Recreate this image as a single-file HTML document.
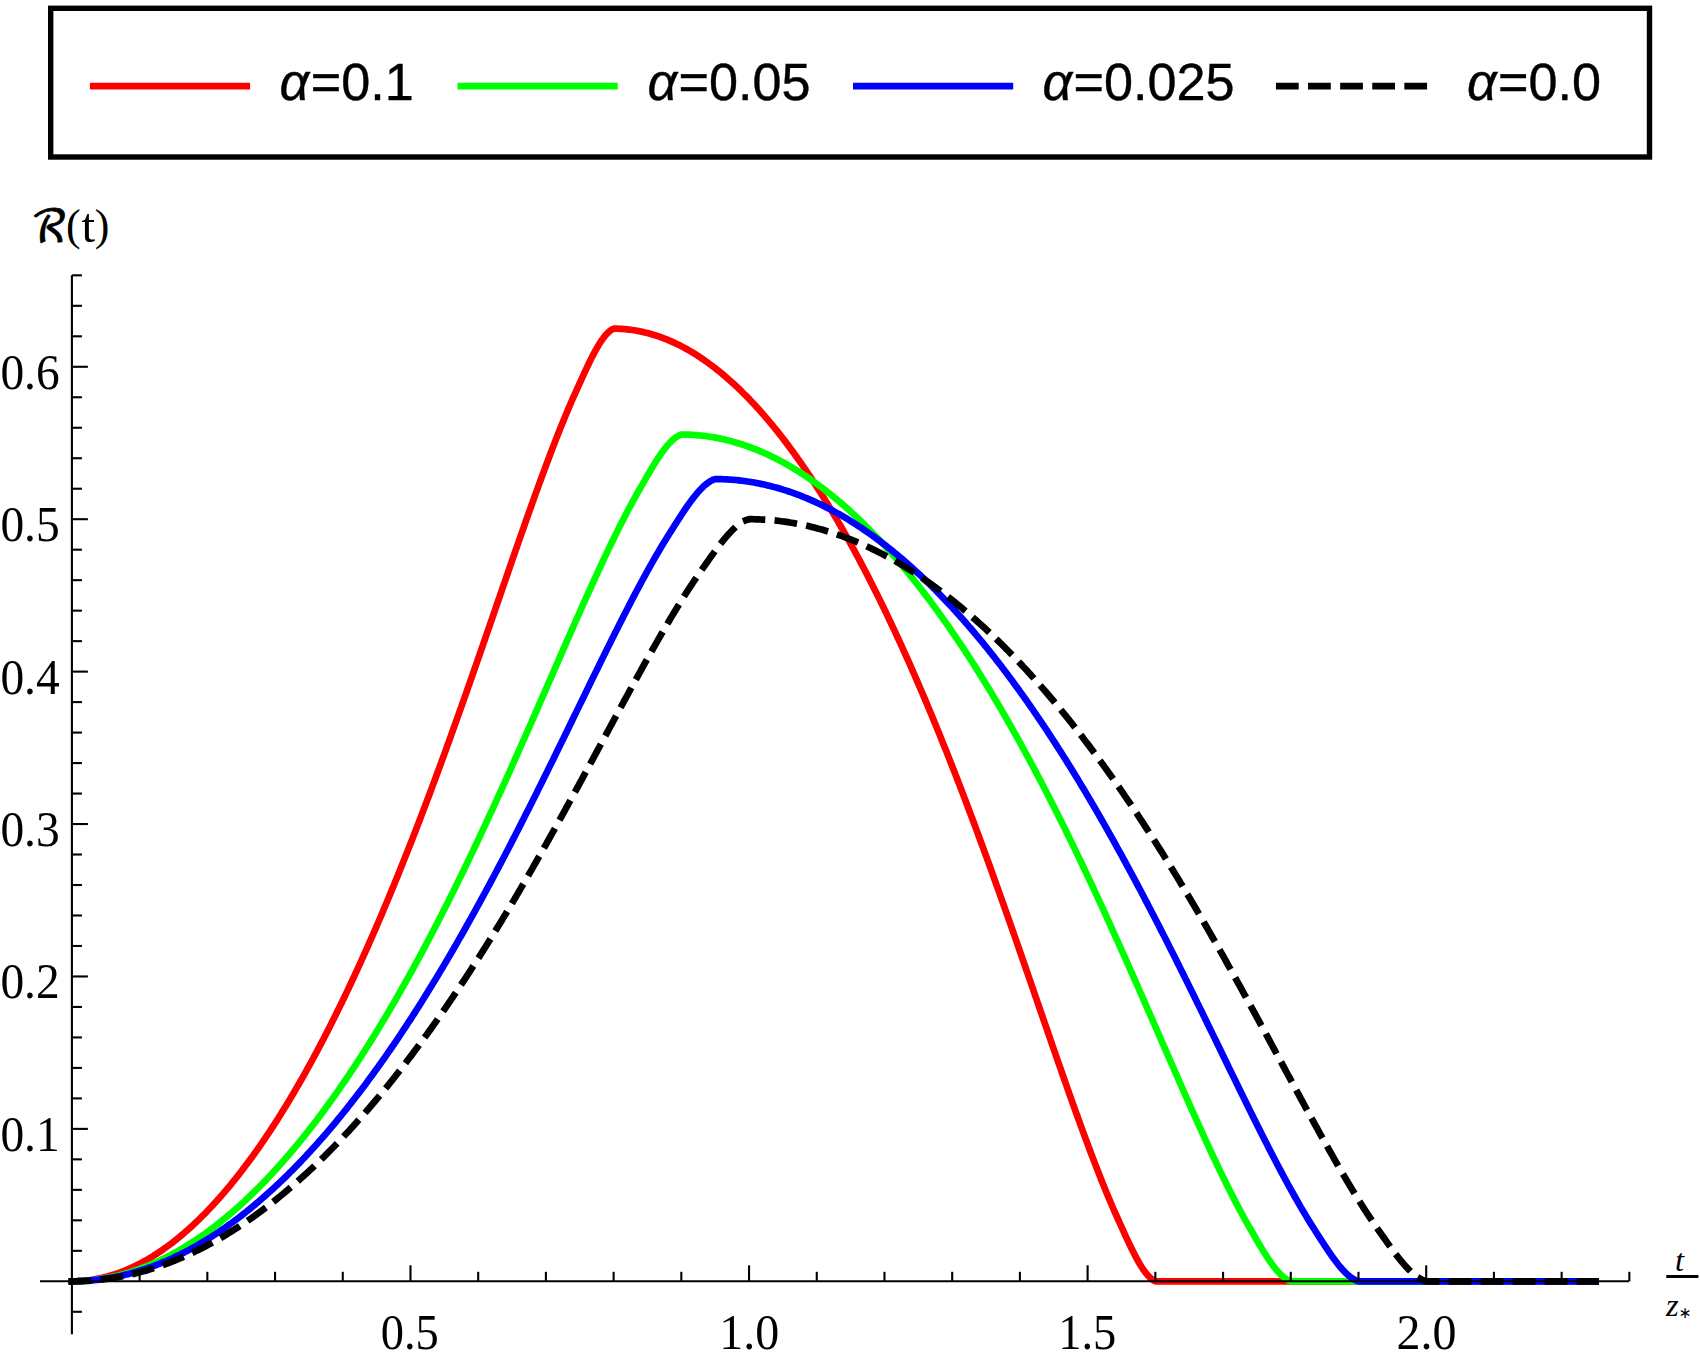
<!DOCTYPE html>
<html><head><meta charset="utf-8"><title>R(t) plot</title>
<style>
html,body{margin:0;padding:0;background:#fff;}
body{width:1700px;height:1367px;overflow:hidden;}
svg{display:block;}
.tk{font-family:"Liberation Serif",serif;font-size:50.5px;fill:#000;}
.lg{font-family:"Liberation Sans",sans-serif;font-size:52.2px;fill:#000;stroke:#000;stroke-width:0.4px;}
.it{font-style:italic;}
</style></head><body>
<svg width="1700" height="1367" viewBox="0 0 1700 1367">
<rect x="0" y="0" width="1700" height="1367" fill="#fff"/>
<rect x="50.7" y="8.3" width="1598.8" height="148.7" fill="none" stroke="#000" stroke-width="5.4"/>
<line x1="89.9" y1="86.2" x2="250.1" y2="86.2" stroke="#ff0000" stroke-width="6.7"/>
<line x1="457.5" y1="86.2" x2="617.7" y2="86.2" stroke="#00ff00" stroke-width="6.7"/>
<line x1="853.0" y1="86.2" x2="1013.2" y2="86.2" stroke="#0000ff" stroke-width="6.7"/>
<line x1="1279.3" y1="86.2" x2="1436" y2="86.2" stroke="#000" stroke-width="6.7" stroke-dasharray="16.05 16.05" stroke-linecap="square"/>
<text class="lg" x="279.6" y="99.8"><tspan class="it">α</tspan><tspan dx="1.4">=0.1</tspan></text>
<text class="lg" x="647.4" y="99.8"><tspan class="it">α</tspan><tspan dx="1.4">=0.05</tspan></text>
<text class="lg" x="1042.4" y="99.8"><tspan class="it">α</tspan><tspan dx="1.4">=0.025</tspan></text>
<text class="lg" x="1466.9" y="99.8"><tspan class="it">α</tspan><tspan dx="1.4">=0.0</tspan></text>
<path d="M71.90 1281.30 L73.59 1281.29 L75.29 1281.26 L76.98 1281.20 L78.67 1281.12 L80.36 1281.03 L82.06 1280.90 L83.75 1280.76 L85.44 1280.60 L87.14 1280.41 L88.83 1280.20 L90.52 1279.97 L92.21 1279.72 L93.91 1279.44 L95.60 1279.15 L97.29 1278.83 L98.99 1278.49 L100.68 1278.13 L102.37 1277.74 L104.06 1277.34 L105.76 1276.91 L107.45 1276.46 L109.14 1275.99 L110.84 1275.49 L112.53 1274.98 L114.22 1274.44 L115.91 1273.88 L117.61 1273.30 L119.30 1272.69 L120.99 1272.07 L122.69 1271.42 L124.38 1270.75 L126.07 1270.06 L127.76 1269.35 L129.46 1268.61 L131.15 1267.85 L132.84 1267.07 L134.54 1266.27 L136.23 1265.45 L137.92 1264.60 L139.62 1263.74 L141.31 1262.85 L143.00 1261.94 L144.69 1261.00 L146.39 1260.05 L148.08 1259.07 L149.77 1258.07 L151.47 1257.05 L153.16 1256.01 L154.85 1254.94 L156.54 1253.86 L158.24 1252.75 L159.93 1251.62 L161.62 1250.46 L163.32 1249.29 L165.01 1248.09 L166.70 1246.87 L168.39 1245.63 L170.09 1244.37 L171.78 1243.09 L173.47 1241.78 L175.17 1240.45 L176.86 1239.10 L178.55 1237.73 L180.24 1236.34 L181.94 1234.92 L183.63 1233.48 L185.32 1232.02 L187.02 1230.54 L188.71 1229.04 L190.40 1227.51 L192.09 1225.96 L193.79 1224.39 L195.48 1222.80 L197.17 1221.19 L198.87 1219.55 L200.56 1217.89 L202.25 1216.21 L203.94 1214.51 L205.64 1212.79 L207.33 1211.04 L209.02 1209.28 L210.72 1207.49 L212.41 1205.68 L214.10 1203.84 L215.79 1201.99 L217.49 1200.11 L219.18 1198.21 L220.87 1196.29 L222.57 1194.35 L224.26 1192.38 L225.95 1190.40 L227.64 1188.39 L229.34 1186.36 L231.03 1184.30 L232.72 1182.23 L234.42 1180.13 L236.11 1178.01 L237.80 1175.87 L239.49 1173.71 L241.19 1171.53 L242.88 1169.32 L244.57 1167.09 L246.27 1164.84 L247.96 1162.57 L249.65 1160.28 L251.34 1157.96 L253.04 1155.62 L254.73 1153.26 L256.42 1150.88 L258.12 1148.48 L259.81 1146.05 L261.50 1143.60 L263.19 1141.13 L264.89 1138.64 L266.58 1136.13 L268.27 1133.59 L269.97 1131.04 L271.66 1128.46 L273.35 1125.86 L275.04 1123.23 L276.74 1120.59 L278.43 1117.92 L280.12 1115.23 L281.82 1112.52 L283.51 1109.79 L285.20 1107.04 L286.90 1104.26 L288.59 1101.46 L290.28 1098.64 L291.97 1095.80 L293.67 1092.94 L295.36 1090.05 L297.05 1087.15 L298.75 1084.22 L300.44 1081.27 L302.13 1078.29 L303.82 1075.30 L305.52 1072.28 L307.21 1069.24 L308.90 1066.18 L310.60 1063.10 L312.29 1060.00 L313.98 1056.88 L315.67 1053.73 L317.37 1050.56 L319.06 1047.37 L320.75 1044.16 L322.45 1040.93 L324.14 1037.67 L325.83 1034.39 L327.52 1031.10 L329.22 1027.78 L330.91 1024.43 L332.60 1021.07 L334.30 1017.69 L335.99 1014.28 L337.68 1010.85 L339.37 1007.40 L341.07 1003.93 L342.76 1000.44 L344.45 996.93 L346.15 993.40 L347.84 989.84 L349.53 986.26 L351.22 982.66 L352.92 979.05 L354.61 975.41 L356.30 971.74 L358.00 968.06 L359.69 964.36 L361.38 960.63 L363.07 956.89 L364.77 953.12 L366.46 949.33 L368.15 945.52 L369.85 941.69 L371.54 937.85 L373.23 933.97 L374.92 930.08 L376.62 926.17 L378.31 922.24 L380.00 918.29 L381.70 914.32 L383.39 910.32 L385.08 906.31 L386.77 902.28 L388.47 898.22 L390.16 894.15 L391.85 890.06 L393.55 885.95 L395.24 881.81 L396.93 877.66 L398.62 873.49 L400.32 869.30 L402.01 865.09 L403.70 860.86 L405.40 856.61 L407.09 852.35 L408.78 848.06 L410.48 843.76 L412.17 839.44 L413.86 835.10 L415.55 830.74 L417.25 826.36 L418.94 821.97 L420.63 817.55 L422.33 813.12 L424.02 808.68 L425.71 804.21 L427.40 799.73 L429.10 795.23 L430.79 790.72 L432.48 786.19 L434.18 781.64 L435.87 777.08 L437.56 772.50 L439.25 767.91 L440.95 763.30 L442.64 758.67 L444.33 754.03 L446.03 749.38 L447.72 744.71 L449.41 740.03 L451.10 735.34 L452.80 730.63 L454.49 725.91 L456.18 721.17 L457.88 716.43 L459.57 711.67 L461.26 706.90 L462.95 702.12 L464.65 697.33 L466.34 692.52 L468.03 687.71 L469.73 682.89 L471.42 678.06 L473.11 673.22 L474.80 668.37 L476.50 663.51 L478.19 658.65 L479.88 653.78 L481.58 648.90 L483.27 644.02 L484.96 639.13 L486.65 634.24 L488.35 629.35 L490.04 624.45 L491.73 619.54 L493.43 614.64 L495.12 609.73 L496.81 604.82 L498.50 599.91 L500.20 595.00 L501.89 590.10 L503.58 585.19 L505.28 580.29 L506.97 575.39 L508.66 570.49 L510.35 565.60 L512.05 560.72 L513.74 555.84 L515.43 550.97 L517.13 546.11 L518.82 541.26 L520.51 536.41 L522.20 531.58 L523.90 526.77 L525.59 521.96 L527.28 517.17 L528.98 512.40 L530.67 507.64 L532.36 502.90 L534.05 498.18 L535.75 493.48 L537.44 488.80 L539.13 484.14 L540.83 479.51 L542.52 474.90 L544.21 470.32 L545.90 465.77 L547.60 461.25 L549.29 456.76 L550.98 452.31 L552.68 447.88 L554.37 443.50 L556.06 439.15 L557.76 434.84 L559.45 430.57 L561.14 426.34 L562.83 422.16 L564.53 418.03 L566.22 413.94 L567.91 409.91 L569.61 405.93 L571.30 402.00 L572.99 398.13 L574.68 394.32 L576.38 390.56 L578.07 386.81 L579.76 383.06 L581.46 379.32 L583.15 375.61 L584.84 371.94 L586.53 368.32 L588.23 364.76 L589.92 361.27 L591.61 357.88 L593.31 354.59 L595.00 351.42 L596.69 348.38 L598.38 345.48 L600.08 342.75 L601.77 340.20 L603.46 337.83 L605.16 335.68 L606.85 333.76 L608.54 332.08 L610.23 330.66 L611.93 329.52 L613.62 328.67 L615.31 328.69 L617.01 328.72 L618.70 328.77 L620.39 328.85 L622.08 328.95 L623.78 329.07 L625.47 329.21 L627.16 329.38 L628.86 329.56 L630.55 329.77 L632.24 330.00 L633.93 330.26 L635.63 330.53 L637.32 330.83 L639.01 331.14 L640.71 331.49 L642.40 331.85 L644.09 332.23 L645.78 332.64 L647.48 333.07 L649.17 333.52 L650.86 333.99 L652.56 334.48 L654.25 335.00 L655.94 335.54 L657.63 336.10 L659.33 336.68 L661.02 337.28 L662.71 337.91 L664.41 338.55 L666.10 339.22 L667.79 339.92 L669.48 340.63 L671.18 341.37 L672.87 342.12 L674.56 342.90 L676.26 343.70 L677.95 344.53 L679.64 345.37 L681.33 346.24 L683.03 347.13 L684.72 348.04 L686.41 348.97 L688.11 349.93 L689.80 350.90 L691.49 351.90 L693.19 352.92 L694.88 353.97 L696.57 355.03 L698.26 356.12 L699.96 357.23 L701.65 358.36 L703.34 359.51 L705.04 360.69 L706.73 361.88 L708.42 363.10 L710.11 364.34 L711.81 365.60 L713.50 366.89 L715.19 368.19 L716.89 369.52 L718.58 370.87 L720.27 372.24 L721.96 373.64 L723.66 375.05 L725.35 376.49 L727.04 377.95 L728.74 379.43 L730.43 380.94 L732.12 382.46 L733.81 384.01 L735.51 385.58 L737.20 387.17 L738.89 388.79 L740.59 390.42 L742.28 392.08 L743.97 393.76 L745.66 395.46 L747.36 397.19 L749.05 398.93 L750.74 400.70 L752.44 402.49 L754.13 404.30 L755.82 406.13 L757.51 407.99 L759.21 409.86 L760.90 411.76 L762.59 413.68 L764.29 415.63 L765.98 417.59 L767.67 419.58 L769.36 421.59 L771.06 423.62 L772.75 425.67 L774.44 427.75 L776.14 429.84 L777.83 431.96 L779.52 434.10 L781.21 436.26 L782.91 438.45 L784.60 440.65 L786.29 442.88 L787.99 445.13 L789.68 447.41 L791.37 449.70 L793.06 452.02 L794.76 454.35 L796.45 456.71 L798.14 459.10 L799.84 461.50 L801.53 463.92 L803.22 466.37 L804.91 468.84 L806.61 471.33 L808.30 473.85 L809.99 476.38 L811.69 478.94 L813.38 481.52 L815.07 484.12 L816.76 486.74 L818.46 489.39 L820.15 492.05 L821.84 494.74 L823.54 497.45 L825.23 500.18 L826.92 502.94 L828.62 505.71 L830.31 508.51 L832.00 511.33 L833.69 514.17 L835.39 517.04 L837.08 519.92 L838.77 522.83 L840.47 525.76 L842.16 528.71 L843.85 531.68 L845.54 534.68 L847.24 537.69 L848.93 540.73 L850.62 543.79 L852.32 546.87 L854.01 549.97 L855.70 553.10 L857.39 556.25 L859.09 559.41 L860.78 562.60 L862.47 565.82 L864.17 569.05 L865.86 572.30 L867.55 575.58 L869.24 578.88 L870.94 582.20 L872.63 585.54 L874.32 588.90 L876.02 592.29 L877.71 595.69 L879.40 599.12 L881.09 602.57 L882.79 606.04 L884.48 609.53 L886.17 613.04 L887.87 616.58 L889.56 620.13 L891.25 623.71 L892.94 627.31 L894.64 630.93 L896.33 634.57 L898.02 638.23 L899.72 641.91 L901.41 645.62 L903.10 649.34 L904.79 653.09 L906.49 656.86 L908.18 660.64 L909.87 664.45 L911.57 668.28 L913.26 672.13 L914.95 676.00 L916.64 679.89 L918.34 683.80 L920.03 687.73 L921.72 691.69 L923.42 695.66 L925.11 699.65 L926.80 703.67 L928.49 707.70 L930.19 711.75 L931.88 715.82 L933.57 719.92 L935.27 724.03 L936.96 728.16 L938.65 732.31 L940.34 736.48 L942.04 740.67 L943.73 744.88 L945.42 749.11 L947.12 753.36 L948.81 757.63 L950.50 761.91 L952.19 766.22 L953.89 770.54 L955.58 774.88 L957.27 779.24 L958.97 783.61 L960.66 788.01 L962.35 792.42 L964.05 796.85 L965.74 801.30 L967.43 805.76 L969.12 810.24 L970.82 814.74 L972.51 819.26 L974.20 823.79 L975.90 828.33 L977.59 832.90 L979.28 837.48 L980.97 842.07 L982.67 846.68 L984.36 851.30 L986.05 855.94 L987.75 860.60 L989.44 865.26 L991.13 869.94 L992.82 874.64 L994.52 879.35 L996.21 884.07 L997.90 888.80 L999.60 893.55 L1001.29 898.31 L1002.98 903.08 L1004.67 907.86 L1006.37 912.65 L1008.06 917.45 L1009.75 922.26 L1011.45 927.09 L1013.14 931.92 L1014.83 936.76 L1016.52 941.60 L1018.22 946.46 L1019.91 951.32 L1021.60 956.19 L1023.30 961.07 L1024.99 965.95 L1026.68 970.84 L1028.37 975.73 L1030.07 980.63 L1031.76 985.53 L1033.45 990.43 L1035.15 995.34 L1036.84 1000.25 L1038.53 1005.15 L1040.22 1010.06 L1041.92 1014.97 L1043.61 1019.88 L1045.30 1024.78 L1047.00 1029.69 L1048.69 1034.59 L1050.38 1039.48 L1052.07 1044.37 L1053.77 1049.26 L1055.46 1054.13 L1057.15 1059.00 L1058.85 1063.87 L1060.54 1068.72 L1062.23 1073.56 L1063.92 1078.39 L1065.62 1083.21 L1067.31 1088.01 L1069.00 1092.80 L1070.70 1097.58 L1072.39 1102.34 L1074.08 1107.08 L1075.77 1111.80 L1077.47 1116.50 L1079.16 1121.18 L1080.85 1125.83 L1082.55 1130.47 L1084.24 1135.07 L1085.93 1139.65 L1087.62 1144.20 L1089.32 1148.72 L1091.01 1153.21 L1092.70 1157.67 L1094.40 1162.09 L1096.09 1166.48 L1097.78 1170.83 L1099.48 1175.14 L1101.17 1179.41 L1102.86 1183.63 L1104.55 1187.81 L1106.25 1191.94 L1107.94 1196.03 L1109.63 1200.07 L1111.33 1204.05 L1113.02 1207.98 L1114.71 1211.85 L1116.40 1215.66 L1118.10 1219.42 L1119.79 1223.17 L1121.48 1226.92 L1123.18 1230.65 L1124.87 1234.36 L1126.56 1238.04 L1128.25 1241.66 L1129.95 1245.22 L1131.64 1248.70 L1133.33 1252.10 L1135.03 1255.39 L1136.72 1258.56 L1138.41 1261.60 L1140.10 1264.49 L1141.80 1267.23 L1143.49 1269.78 L1145.18 1272.14 L1146.88 1274.29 L1148.57 1276.22 L1150.26 1277.90 L1151.95 1279.32 L1153.65 1280.46 L1155.34 1281.30 L1157.03 1281.30 L1158.73 1281.30 L1160.42 1281.30 L1162.11 1281.30 L1163.80 1281.30 L1165.50 1281.30 L1167.19 1281.30 L1168.88 1281.30 L1170.58 1281.30 L1172.27 1281.30 L1173.96 1281.30 L1175.65 1281.30 L1177.35 1281.30 L1179.04 1281.30 L1180.73 1281.30 L1182.43 1281.30 L1184.12 1281.30 L1185.81 1281.30 L1187.50 1281.30 L1189.20 1281.30 L1190.89 1281.30 L1192.58 1281.30 L1194.28 1281.30 L1195.97 1281.30 L1197.66 1281.30 L1199.35 1281.30 L1201.05 1281.30 L1202.74 1281.30 L1204.43 1281.30 L1206.13 1281.30 L1207.82 1281.30 L1209.51 1281.30 L1211.20 1281.30 L1212.90 1281.30 L1214.59 1281.30 L1216.28 1281.30 L1217.98 1281.30 L1219.67 1281.30 L1221.36 1281.30 L1223.06 1281.30 L1224.75 1281.30 L1226.44 1281.30 L1228.13 1281.30 L1229.83 1281.30 L1231.52 1281.30 L1233.21 1281.30 L1234.91 1281.30 L1236.60 1281.30 L1238.29 1281.30 L1239.98 1281.30 L1241.68 1281.30 L1243.37 1281.30 L1245.06 1281.30 L1246.76 1281.30 L1248.45 1281.30 L1250.14 1281.30 L1251.83 1281.30 L1253.53 1281.30 L1255.22 1281.30 L1256.91 1281.30 L1258.61 1281.30 L1260.30 1281.30 L1261.99 1281.30 L1263.68 1281.30 L1265.38 1281.30 L1267.07 1281.30 L1268.76 1281.30 L1270.46 1281.30 L1272.15 1281.30 L1273.84 1281.30 L1275.53 1281.30 L1277.23 1281.30 L1278.92 1281.30 L1280.61 1281.30 L1282.31 1281.30 L1284.00 1281.30 L1285.69 1281.30 L1287.38 1281.30 L1289.08 1281.30 L1290.77 1281.30 L1292.46 1281.30 L1294.16 1281.30 L1295.85 1281.30 L1297.54 1281.30 L1299.23 1281.30 L1300.93 1281.30 L1302.62 1281.30 L1304.31 1281.30 L1306.01 1281.30 L1307.70 1281.30 L1309.39 1281.30 L1311.08 1281.30 L1312.78 1281.30 L1314.47 1281.30 L1316.16 1281.30 L1317.86 1281.30 L1319.55 1281.30 L1321.24 1281.30 L1322.93 1281.30 L1324.63 1281.30 L1326.32 1281.30 L1328.01 1281.30 L1329.71 1281.30 L1331.40 1281.30 L1333.09 1281.30 L1334.78 1281.30 L1336.48 1281.30 L1338.17 1281.30 L1339.86 1281.30 L1341.56 1281.30 L1343.25 1281.30 L1344.94 1281.30 L1346.63 1281.30 L1348.33 1281.30 L1350.02 1281.30 L1351.71 1281.30 L1353.41 1281.30 L1355.10 1281.30 L1356.79 1281.30 L1358.48 1281.30 L1360.18 1281.30 L1361.87 1281.30 L1363.56 1281.30 L1365.26 1281.30 L1366.95 1281.30 L1368.64 1281.30 L1370.34 1281.30 L1372.03 1281.30 L1373.72 1281.30 L1375.41 1281.30 L1377.11 1281.30 L1378.80 1281.30 L1380.49 1281.30 L1382.19 1281.30 L1383.88 1281.30 L1385.57 1281.30 L1387.26 1281.30 L1388.96 1281.30 L1390.65 1281.30 L1392.34 1281.30 L1394.04 1281.30 L1395.73 1281.30 L1397.42 1281.30 L1399.11 1281.30 L1400.81 1281.30 L1402.50 1281.30 L1404.19 1281.30 L1405.89 1281.30 L1407.58 1281.30 L1409.27 1281.30 L1410.96 1281.30 L1412.66 1281.30 L1414.35 1281.30 L1416.04 1281.30 L1417.74 1281.30 L1419.43 1281.30 L1421.12 1281.30 L1422.81 1281.30 L1424.51 1281.30 L1426.20 1281.30 L1427.89 1281.30 L1429.59 1281.30 L1431.28 1281.30 L1432.97 1281.30 L1434.66 1281.30 L1436.36 1281.30 L1438.05 1281.30 L1439.74 1281.30 L1441.44 1281.30 L1443.13 1281.30 L1444.82 1281.30 L1446.51 1281.30 L1448.21 1281.30 L1449.90 1281.30 L1451.59 1281.30 L1453.29 1281.30 L1454.98 1281.30 L1456.67 1281.30 L1458.36 1281.30 L1460.06 1281.30 L1461.75 1281.30 L1463.44 1281.30 L1465.14 1281.30 L1466.83 1281.30 L1468.52 1281.30 L1470.21 1281.30 L1471.91 1281.30 L1473.60 1281.30 L1475.29 1281.30 L1476.99 1281.30 L1478.68 1281.30 L1480.37 1281.30 L1482.06 1281.30 L1483.76 1281.30 L1485.45 1281.30 L1487.14 1281.30 L1488.84 1281.30 L1490.53 1281.30 L1492.22 1281.30 L1493.92 1281.30 L1495.61 1281.30 L1497.30 1281.30 L1498.99 1281.30 L1500.69 1281.30 L1502.38 1281.30 L1504.07 1281.30 L1505.77 1281.30 L1507.46 1281.30 L1509.15 1281.30 L1510.84 1281.30 L1512.54 1281.30 L1514.23 1281.30 L1515.92 1281.30 L1517.62 1281.30 L1519.31 1281.30 L1521.00 1281.30 L1522.69 1281.30 L1524.39 1281.30 L1526.08 1281.30 L1527.77 1281.30 L1529.47 1281.30 L1531.16 1281.30 L1532.85 1281.30 L1534.54 1281.30 L1536.24 1281.30 L1537.93 1281.30 L1539.62 1281.30 L1541.32 1281.30 L1543.01 1281.30 L1544.70 1281.30 L1546.39 1281.30 L1548.09 1281.30 L1549.78 1281.30 L1551.47 1281.30 L1553.17 1281.30 L1554.86 1281.30 L1556.55 1281.30 L1558.24 1281.30 L1559.94 1281.30 L1561.63 1281.30 L1563.32 1281.30 L1565.02 1281.30 L1566.71 1281.30 L1568.40 1281.30 L1570.09 1281.30 L1571.79 1281.30 L1573.48 1281.30 L1575.17 1281.30 L1576.87 1281.30 L1578.56 1281.30 L1580.25 1281.30 L1581.94 1281.30 L1583.64 1281.30 L1585.33 1281.30 L1587.02 1281.30 L1588.72 1281.30 L1590.41 1281.30 L1592.10 1281.30 L1593.79 1281.30 L1595.49 1281.30" fill="none" stroke="#ff0000" stroke-width="6.7" stroke-linejoin="round" stroke-linecap="square"/>
<path d="M71.90 1281.30 L73.59 1281.29 L75.29 1281.27 L76.98 1281.23 L78.67 1281.18 L80.36 1281.11 L82.06 1281.02 L83.75 1280.92 L85.44 1280.81 L87.14 1280.68 L88.83 1280.53 L90.52 1280.37 L92.21 1280.19 L93.91 1280.00 L95.60 1279.79 L97.29 1279.57 L98.99 1279.33 L100.68 1279.07 L102.37 1278.80 L104.06 1278.52 L105.76 1278.22 L107.45 1277.90 L109.14 1277.57 L110.84 1277.22 L112.53 1276.86 L114.22 1276.48 L115.91 1276.09 L117.61 1275.68 L119.30 1275.26 L120.99 1274.82 L122.69 1274.36 L124.38 1273.89 L126.07 1273.41 L127.76 1272.90 L129.46 1272.39 L131.15 1271.86 L132.84 1271.31 L134.54 1270.75 L136.23 1270.17 L137.92 1269.57 L139.62 1268.96 L141.31 1268.34 L143.00 1267.70 L144.69 1267.04 L146.39 1266.37 L148.08 1265.69 L149.77 1264.99 L151.47 1264.27 L153.16 1263.54 L154.85 1262.79 L156.54 1262.03 L158.24 1261.25 L159.93 1260.45 L161.62 1259.64 L163.32 1258.82 L165.01 1257.98 L166.70 1257.12 L168.39 1256.25 L170.09 1255.36 L171.78 1254.46 L173.47 1253.54 L175.17 1252.61 L176.86 1251.66 L178.55 1250.70 L180.24 1249.72 L181.94 1248.73 L183.63 1247.72 L185.32 1246.69 L187.02 1245.65 L188.71 1244.59 L190.40 1243.52 L192.09 1242.43 L193.79 1241.33 L195.48 1240.21 L197.17 1239.08 L198.87 1237.93 L200.56 1236.77 L202.25 1235.59 L203.94 1234.39 L205.64 1233.18 L207.33 1231.96 L209.02 1230.72 L210.72 1229.46 L212.41 1228.19 L214.10 1226.90 L215.79 1225.60 L217.49 1224.28 L219.18 1222.94 L220.87 1221.59 L222.57 1220.23 L224.26 1218.85 L225.95 1217.45 L227.64 1216.04 L229.34 1214.62 L231.03 1213.18 L232.72 1211.72 L234.42 1210.25 L236.11 1208.76 L237.80 1207.25 L239.49 1205.74 L241.19 1204.20 L242.88 1202.65 L244.57 1201.09 L246.27 1199.51 L247.96 1197.91 L249.65 1196.30 L251.34 1194.67 L253.04 1193.03 L254.73 1191.37 L256.42 1189.70 L258.12 1188.01 L259.81 1186.31 L261.50 1184.59 L263.19 1182.85 L264.89 1181.10 L266.58 1179.34 L268.27 1177.56 L269.97 1175.76 L271.66 1173.95 L273.35 1172.12 L275.04 1170.28 L276.74 1168.42 L278.43 1166.55 L280.12 1164.66 L281.82 1162.76 L283.51 1160.84 L285.20 1158.90 L286.90 1156.95 L288.59 1154.99 L290.28 1153.01 L291.97 1151.01 L293.67 1149.00 L295.36 1146.97 L297.05 1144.93 L298.75 1142.87 L300.44 1140.80 L302.13 1138.71 L303.82 1136.60 L305.52 1134.48 L307.21 1132.35 L308.90 1130.20 L310.60 1128.03 L312.29 1125.85 L313.98 1123.66 L315.67 1121.44 L317.37 1119.22 L319.06 1116.97 L320.75 1114.72 L322.45 1112.44 L324.14 1110.16 L325.83 1107.85 L327.52 1105.53 L329.22 1103.20 L330.91 1100.85 L332.60 1098.48 L334.30 1096.10 L335.99 1093.71 L337.68 1091.30 L339.37 1088.87 L341.07 1086.43 L342.76 1083.97 L344.45 1081.50 L346.15 1079.01 L347.84 1076.51 L349.53 1073.99 L351.22 1071.46 L352.92 1068.91 L354.61 1066.35 L356.30 1063.77 L358.00 1061.18 L359.69 1058.57 L361.38 1055.95 L363.07 1053.31 L364.77 1050.65 L366.46 1047.98 L368.15 1045.30 L369.85 1042.60 L371.54 1039.88 L373.23 1037.15 L374.92 1034.41 L376.62 1031.65 L378.31 1028.87 L380.00 1026.08 L381.70 1023.28 L383.39 1020.46 L385.08 1017.63 L386.77 1014.78 L388.47 1011.91 L390.16 1009.03 L391.85 1006.14 L393.55 1003.23 L395.24 1000.31 L396.93 997.37 L398.62 994.41 L400.32 991.45 L402.01 988.46 L403.70 985.47 L405.40 982.46 L407.09 979.43 L408.78 976.39 L410.48 973.33 L412.17 970.26 L413.86 967.18 L415.55 964.08 L417.25 960.97 L418.94 957.84 L420.63 954.70 L422.33 951.54 L424.02 948.37 L425.71 945.19 L427.40 941.99 L429.10 938.78 L430.79 935.55 L432.48 932.31 L434.18 929.06 L435.87 925.79 L437.56 922.51 L439.25 919.22 L440.95 915.91 L442.64 912.59 L444.33 909.25 L446.03 905.90 L447.72 902.54 L449.41 899.16 L451.10 895.78 L452.80 892.37 L454.49 888.96 L456.18 885.53 L457.88 882.09 L459.57 878.64 L461.26 875.18 L462.95 871.70 L464.65 868.21 L466.34 864.71 L468.03 861.19 L469.73 857.66 L471.42 854.13 L473.11 850.58 L474.80 847.01 L476.50 843.44 L478.19 839.86 L479.88 836.26 L481.58 832.65 L483.27 829.03 L484.96 825.40 L486.65 821.76 L488.35 818.11 L490.04 814.45 L491.73 810.78 L493.43 807.10 L495.12 803.41 L496.81 799.71 L498.50 796.00 L500.20 792.28 L501.89 788.55 L503.58 784.81 L505.28 781.07 L506.97 777.31 L508.66 773.55 L510.35 769.78 L512.05 766.00 L513.74 762.21 L515.43 758.42 L517.13 754.62 L518.82 750.81 L520.51 747.00 L522.20 743.17 L523.90 739.35 L525.59 735.52 L527.28 731.68 L528.98 727.83 L530.67 723.99 L532.36 720.13 L534.05 716.28 L535.75 712.42 L537.44 708.55 L539.13 704.69 L540.83 700.82 L542.52 696.95 L544.21 693.07 L545.90 689.20 L547.60 685.32 L549.29 681.44 L550.98 677.56 L552.68 673.68 L554.37 669.81 L556.06 665.93 L557.76 662.05 L559.45 658.18 L561.14 654.31 L562.83 650.44 L564.53 646.57 L566.22 642.71 L567.91 638.86 L569.61 635.00 L571.30 631.16 L572.99 627.32 L574.68 623.48 L576.38 619.66 L578.07 615.84 L579.76 612.03 L581.46 608.23 L583.15 604.44 L584.84 600.66 L586.53 596.89 L588.23 593.13 L589.92 589.39 L591.61 585.66 L593.31 581.94 L595.00 578.24 L596.69 574.55 L598.38 570.88 L600.08 567.23 L601.77 563.60 L603.46 559.98 L605.16 556.39 L606.85 552.81 L608.54 549.26 L610.23 545.73 L611.93 542.23 L613.62 538.75 L615.31 535.29 L617.01 531.87 L618.70 528.47 L620.39 525.10 L622.08 521.75 L623.78 518.45 L625.47 515.17 L627.16 511.93 L628.86 508.72 L630.55 505.55 L632.24 502.41 L633.93 499.31 L635.63 496.26 L637.32 493.24 L639.01 490.27 L640.71 487.31 L642.40 484.34 L644.09 481.38 L645.78 478.44 L647.48 475.51 L649.17 472.62 L650.86 469.76 L652.56 466.94 L654.25 464.18 L655.94 461.48 L657.63 458.84 L659.33 456.29 L661.02 453.82 L662.71 451.45 L664.41 449.18 L666.10 447.03 L667.79 445.01 L669.48 443.11 L671.18 441.37 L672.87 439.78 L674.56 438.35 L676.26 437.10 L677.95 436.04 L679.64 435.18 L681.33 434.52 L683.03 434.53 L684.72 434.55 L686.41 434.59 L688.11 434.65 L689.80 434.71 L691.49 434.80 L693.19 434.90 L694.88 435.02 L696.57 435.15 L698.26 435.29 L699.96 435.46 L701.65 435.63 L703.34 435.83 L705.04 436.03 L706.73 436.26 L708.42 436.50 L710.11 436.75 L711.81 437.02 L713.50 437.31 L715.19 437.61 L716.89 437.92 L718.58 438.25 L720.27 438.60 L721.96 438.96 L723.66 439.34 L725.35 439.73 L727.04 440.14 L728.74 440.57 L730.43 441.01 L732.12 441.46 L733.81 441.93 L735.51 442.42 L737.20 442.92 L738.89 443.43 L740.59 443.97 L742.28 444.51 L743.97 445.08 L745.66 445.66 L747.36 446.25 L749.05 446.86 L750.74 447.48 L752.44 448.12 L754.13 448.78 L755.82 449.45 L757.51 450.13 L759.21 450.84 L760.90 451.55 L762.59 452.29 L764.29 453.03 L765.98 453.80 L767.67 454.58 L769.36 455.37 L771.06 456.18 L772.75 457.00 L774.44 457.84 L776.14 458.70 L777.83 459.57 L779.52 460.46 L781.21 461.36 L782.91 462.28 L784.60 463.21 L786.29 464.16 L787.99 465.12 L789.68 466.10 L791.37 467.10 L793.06 468.11 L794.76 469.13 L796.45 470.17 L798.14 471.23 L799.84 472.30 L801.53 473.39 L803.22 474.49 L804.91 475.61 L806.61 476.74 L808.30 477.89 L809.99 479.05 L811.69 480.23 L813.38 481.43 L815.07 482.64 L816.76 483.87 L818.46 485.11 L820.15 486.36 L821.84 487.64 L823.54 488.92 L825.23 490.23 L826.92 491.54 L828.62 492.88 L830.31 494.23 L832.00 495.59 L833.69 496.97 L835.39 498.37 L837.08 499.78 L838.77 501.20 L840.47 502.65 L842.16 504.10 L843.85 505.58 L845.54 507.06 L847.24 508.57 L848.93 510.09 L850.62 511.62 L852.32 513.17 L854.01 514.74 L855.70 516.32 L857.39 517.91 L859.09 519.52 L860.78 521.15 L862.47 522.79 L864.17 524.45 L865.86 526.12 L867.55 527.81 L869.24 529.51 L870.94 531.23 L872.63 532.97 L874.32 534.72 L876.02 536.48 L877.71 538.26 L879.40 540.06 L881.09 541.87 L882.79 543.70 L884.48 545.54 L886.17 547.40 L887.87 549.27 L889.56 551.16 L891.25 553.07 L892.94 554.98 L894.64 556.92 L896.33 558.87 L898.02 560.84 L899.72 562.82 L901.41 564.81 L903.10 566.82 L904.79 568.85 L906.49 570.89 L908.18 572.95 L909.87 575.03 L911.57 577.11 L913.26 579.22 L914.95 581.34 L916.64 583.47 L918.34 585.62 L920.03 587.79 L921.72 589.97 L923.42 592.17 L925.11 594.38 L926.80 596.60 L928.49 598.85 L930.19 601.10 L931.88 603.38 L933.57 605.67 L935.27 607.97 L936.96 610.29 L938.65 612.62 L940.34 614.97 L942.04 617.34 L943.73 619.72 L945.42 622.11 L947.12 624.52 L948.81 626.95 L950.50 629.39 L952.19 631.85 L953.89 634.32 L955.58 636.81 L957.27 639.31 L958.97 641.83 L960.66 644.36 L962.35 646.91 L964.05 649.47 L965.74 652.05 L967.43 654.64 L969.12 657.25 L970.82 659.88 L972.51 662.52 L974.20 665.17 L975.90 667.84 L977.59 670.52 L979.28 673.22 L980.97 675.94 L982.67 678.67 L984.36 681.41 L986.05 684.17 L987.75 686.95 L989.44 689.74 L991.13 692.54 L992.82 695.36 L994.52 698.20 L996.21 701.05 L997.90 703.91 L999.60 706.79 L1001.29 709.68 L1002.98 712.59 L1004.67 715.52 L1006.37 718.45 L1008.06 721.41 L1009.75 724.38 L1011.45 727.36 L1013.14 730.36 L1014.83 733.37 L1016.52 736.39 L1018.22 739.43 L1019.91 742.49 L1021.60 745.56 L1023.30 748.64 L1024.99 751.74 L1026.68 754.86 L1028.37 757.98 L1030.07 761.12 L1031.76 764.28 L1033.45 767.45 L1035.15 770.63 L1036.84 773.83 L1038.53 777.04 L1040.22 780.27 L1041.92 783.51 L1043.61 786.76 L1045.30 790.03 L1047.00 793.31 L1048.69 796.61 L1050.38 799.91 L1052.07 803.24 L1053.77 806.57 L1055.46 809.92 L1057.15 813.28 L1058.85 816.66 L1060.54 820.05 L1062.23 823.45 L1063.92 826.86 L1065.62 830.29 L1067.31 833.73 L1069.00 837.18 L1070.70 840.65 L1072.39 844.12 L1074.08 847.61 L1075.77 851.12 L1077.47 854.63 L1079.16 858.16 L1080.85 861.70 L1082.55 865.25 L1084.24 868.81 L1085.93 872.38 L1087.62 875.97 L1089.32 879.56 L1091.01 883.17 L1092.70 886.79 L1094.40 890.42 L1096.09 894.06 L1097.78 897.71 L1099.48 901.37 L1101.17 905.04 L1102.86 908.72 L1104.55 912.41 L1106.25 916.11 L1107.94 919.82 L1109.63 923.54 L1111.33 927.27 L1113.02 931.01 L1114.71 934.76 L1116.40 938.51 L1118.10 942.27 L1119.79 946.04 L1121.48 949.82 L1123.18 953.61 L1124.87 957.40 L1126.56 961.21 L1128.25 965.01 L1129.95 968.83 L1131.64 972.65 L1133.33 976.47 L1135.03 980.31 L1136.72 984.14 L1138.41 987.99 L1140.10 991.84 L1141.80 995.69 L1143.49 999.54 L1145.18 1003.40 L1146.88 1007.27 L1148.57 1011.14 L1150.26 1015.01 L1151.95 1018.88 L1153.65 1022.75 L1155.34 1026.63 L1157.03 1030.50 L1158.73 1034.38 L1160.42 1038.26 L1162.11 1042.14 L1163.80 1046.02 L1165.50 1049.89 L1167.19 1053.77 L1168.88 1057.64 L1170.58 1061.51 L1172.27 1065.38 L1173.96 1069.25 L1175.65 1073.11 L1177.35 1076.97 L1179.04 1080.82 L1180.73 1084.66 L1182.43 1088.50 L1184.12 1092.34 L1185.81 1096.16 L1187.50 1099.98 L1189.20 1103.79 L1190.89 1107.59 L1192.58 1111.38 L1194.28 1115.16 L1195.97 1118.93 L1197.66 1122.69 L1199.35 1126.44 L1201.05 1130.17 L1202.74 1133.88 L1204.43 1137.58 L1206.13 1141.27 L1207.82 1144.94 L1209.51 1148.59 L1211.20 1152.23 L1212.90 1155.84 L1214.59 1159.44 L1216.28 1163.01 L1217.98 1166.56 L1219.67 1170.09 L1221.36 1173.59 L1223.06 1177.07 L1224.75 1180.53 L1226.44 1183.96 L1228.13 1187.36 L1229.83 1190.73 L1231.52 1194.07 L1233.21 1197.38 L1234.91 1200.65 L1236.60 1203.90 L1238.29 1207.10 L1239.98 1210.28 L1241.68 1213.41 L1243.37 1216.51 L1245.06 1219.56 L1246.76 1222.58 L1248.45 1225.55 L1250.14 1228.52 L1251.83 1231.48 L1253.53 1234.44 L1255.22 1237.38 L1256.91 1240.31 L1258.61 1243.20 L1260.30 1246.06 L1261.99 1248.88 L1263.68 1251.64 L1265.38 1254.34 L1267.07 1256.98 L1268.76 1259.53 L1270.46 1262.00 L1272.15 1264.37 L1273.84 1266.64 L1275.53 1268.79 L1277.23 1270.82 L1278.92 1272.71 L1280.61 1274.45 L1282.31 1276.05 L1284.00 1277.47 L1285.69 1278.72 L1287.38 1279.78 L1289.08 1280.65 L1290.77 1281.30 L1292.46 1281.30 L1294.16 1281.30 L1295.85 1281.30 L1297.54 1281.30 L1299.23 1281.30 L1300.93 1281.30 L1302.62 1281.30 L1304.31 1281.30 L1306.01 1281.30 L1307.70 1281.30 L1309.39 1281.30 L1311.08 1281.30 L1312.78 1281.30 L1314.47 1281.30 L1316.16 1281.30 L1317.86 1281.30 L1319.55 1281.30 L1321.24 1281.30 L1322.93 1281.30 L1324.63 1281.30 L1326.32 1281.30 L1328.01 1281.30 L1329.71 1281.30 L1331.40 1281.30 L1333.09 1281.30 L1334.78 1281.30 L1336.48 1281.30 L1338.17 1281.30 L1339.86 1281.30 L1341.56 1281.30 L1343.25 1281.30 L1344.94 1281.30 L1346.63 1281.30 L1348.33 1281.30 L1350.02 1281.30 L1351.71 1281.30 L1353.41 1281.30 L1355.10 1281.30 L1356.79 1281.30 L1358.48 1281.30 L1360.18 1281.30 L1361.87 1281.30 L1363.56 1281.30 L1365.26 1281.30 L1366.95 1281.30 L1368.64 1281.30 L1370.34 1281.30 L1372.03 1281.30 L1373.72 1281.30 L1375.41 1281.30 L1377.11 1281.30 L1378.80 1281.30 L1380.49 1281.30 L1382.19 1281.30 L1383.88 1281.30 L1385.57 1281.30 L1387.26 1281.30 L1388.96 1281.30 L1390.65 1281.30 L1392.34 1281.30 L1394.04 1281.30 L1395.73 1281.30 L1397.42 1281.30 L1399.11 1281.30 L1400.81 1281.30 L1402.50 1281.30 L1404.19 1281.30 L1405.89 1281.30 L1407.58 1281.30 L1409.27 1281.30 L1410.96 1281.30 L1412.66 1281.30 L1414.35 1281.30 L1416.04 1281.30 L1417.74 1281.30 L1419.43 1281.30 L1421.12 1281.30 L1422.81 1281.30 L1424.51 1281.30 L1426.20 1281.30 L1427.89 1281.30 L1429.59 1281.30 L1431.28 1281.30 L1432.97 1281.30 L1434.66 1281.30 L1436.36 1281.30 L1438.05 1281.30 L1439.74 1281.30 L1441.44 1281.30 L1443.13 1281.30 L1444.82 1281.30 L1446.51 1281.30 L1448.21 1281.30 L1449.90 1281.30 L1451.59 1281.30 L1453.29 1281.30 L1454.98 1281.30 L1456.67 1281.30 L1458.36 1281.30 L1460.06 1281.30 L1461.75 1281.30 L1463.44 1281.30 L1465.14 1281.30 L1466.83 1281.30 L1468.52 1281.30 L1470.21 1281.30 L1471.91 1281.30 L1473.60 1281.30 L1475.29 1281.30 L1476.99 1281.30 L1478.68 1281.30 L1480.37 1281.30 L1482.06 1281.30 L1483.76 1281.30 L1485.45 1281.30 L1487.14 1281.30 L1488.84 1281.30 L1490.53 1281.30 L1492.22 1281.30 L1493.92 1281.30 L1495.61 1281.30 L1497.30 1281.30 L1498.99 1281.30 L1500.69 1281.30 L1502.38 1281.30 L1504.07 1281.30 L1505.77 1281.30 L1507.46 1281.30 L1509.15 1281.30 L1510.84 1281.30 L1512.54 1281.30 L1514.23 1281.30 L1515.92 1281.30 L1517.62 1281.30 L1519.31 1281.30 L1521.00 1281.30 L1522.69 1281.30 L1524.39 1281.30 L1526.08 1281.30 L1527.77 1281.30 L1529.47 1281.30 L1531.16 1281.30 L1532.85 1281.30 L1534.54 1281.30 L1536.24 1281.30 L1537.93 1281.30 L1539.62 1281.30 L1541.32 1281.30 L1543.01 1281.30 L1544.70 1281.30 L1546.39 1281.30 L1548.09 1281.30 L1549.78 1281.30 L1551.47 1281.30 L1553.17 1281.30 L1554.86 1281.30 L1556.55 1281.30 L1558.24 1281.30 L1559.94 1281.30 L1561.63 1281.30 L1563.32 1281.30 L1565.02 1281.30 L1566.71 1281.30 L1568.40 1281.30 L1570.09 1281.30 L1571.79 1281.30 L1573.48 1281.30 L1575.17 1281.30 L1576.87 1281.30 L1578.56 1281.30 L1580.25 1281.30 L1581.94 1281.30 L1583.64 1281.30 L1585.33 1281.30 L1587.02 1281.30 L1588.72 1281.30 L1590.41 1281.30 L1592.10 1281.30 L1593.79 1281.30 L1595.49 1281.30" fill="none" stroke="#00ff00" stroke-width="6.7" stroke-linejoin="round" stroke-linecap="square"/>
<path d="M71.90 1281.30 L73.59 1281.29 L75.29 1281.27 L76.98 1281.24 L78.67 1281.20 L80.36 1281.14 L82.06 1281.06 L83.75 1280.98 L85.44 1280.88 L87.14 1280.77 L88.83 1280.64 L90.52 1280.51 L92.21 1280.36 L93.91 1280.19 L95.60 1280.02 L97.29 1279.83 L98.99 1279.62 L100.68 1279.41 L102.37 1279.18 L104.06 1278.93 L105.76 1278.68 L107.45 1278.41 L109.14 1278.13 L110.84 1277.83 L112.53 1277.52 L114.22 1277.20 L115.91 1276.87 L117.61 1276.52 L119.30 1276.16 L120.99 1275.79 L122.69 1275.40 L124.38 1275.00 L126.07 1274.59 L127.76 1274.16 L129.46 1273.72 L131.15 1273.27 L132.84 1272.80 L134.54 1272.33 L136.23 1271.83 L137.92 1271.33 L139.62 1270.81 L141.31 1270.28 L143.00 1269.74 L144.69 1269.18 L146.39 1268.61 L148.08 1268.03 L149.77 1267.43 L151.47 1266.82 L153.16 1266.20 L154.85 1265.56 L156.54 1264.91 L158.24 1264.25 L159.93 1263.57 L161.62 1262.89 L163.32 1262.18 L165.01 1261.47 L166.70 1260.74 L168.39 1260.00 L170.09 1259.25 L171.78 1258.48 L173.47 1257.70 L175.17 1256.91 L176.86 1256.10 L178.55 1255.28 L180.24 1254.45 L181.94 1253.60 L183.63 1252.74 L185.32 1251.87 L187.02 1250.99 L188.71 1250.09 L190.40 1249.18 L192.09 1248.25 L193.79 1247.32 L195.48 1246.37 L197.17 1245.40 L198.87 1244.43 L200.56 1243.44 L202.25 1242.43 L203.94 1241.42 L205.64 1240.39 L207.33 1239.35 L209.02 1238.29 L210.72 1237.22 L212.41 1236.14 L214.10 1235.04 L215.79 1233.94 L217.49 1232.82 L219.18 1231.68 L220.87 1230.53 L222.57 1229.37 L224.26 1228.20 L225.95 1227.01 L227.64 1225.81 L229.34 1224.60 L231.03 1223.38 L232.72 1222.14 L234.42 1220.89 L236.11 1219.62 L237.80 1218.34 L239.49 1217.05 L241.19 1215.75 L242.88 1214.43 L244.57 1213.10 L246.27 1211.75 L247.96 1210.40 L249.65 1209.03 L251.34 1207.64 L253.04 1206.25 L254.73 1204.84 L256.42 1203.42 L258.12 1201.98 L259.81 1200.53 L261.50 1199.07 L263.19 1197.59 L264.89 1196.11 L266.58 1194.60 L268.27 1193.09 L269.97 1191.56 L271.66 1190.02 L273.35 1188.47 L275.04 1186.90 L276.74 1185.32 L278.43 1183.73 L280.12 1182.12 L281.82 1180.51 L283.51 1178.87 L285.20 1177.23 L286.90 1175.57 L288.59 1173.90 L290.28 1172.21 L291.97 1170.52 L293.67 1168.81 L295.36 1167.08 L297.05 1165.34 L298.75 1163.59 L300.44 1161.83 L302.13 1160.06 L303.82 1158.27 L305.52 1156.46 L307.21 1154.65 L308.90 1152.82 L310.60 1150.98 L312.29 1149.12 L313.98 1147.26 L315.67 1145.37 L317.37 1143.48 L319.06 1141.57 L320.75 1139.65 L322.45 1137.72 L324.14 1135.77 L325.83 1133.82 L327.52 1131.84 L329.22 1129.86 L330.91 1127.86 L332.60 1125.85 L334.30 1123.82 L335.99 1121.79 L337.68 1119.74 L339.37 1117.67 L341.07 1115.60 L342.76 1113.51 L344.45 1111.40 L346.15 1109.29 L347.84 1107.16 L349.53 1105.02 L351.22 1102.86 L352.92 1100.69 L354.61 1098.51 L356.30 1096.32 L358.00 1094.11 L359.69 1091.89 L361.38 1089.66 L363.07 1087.42 L364.77 1085.16 L366.46 1082.89 L368.15 1080.60 L369.85 1078.30 L371.54 1075.99 L373.23 1073.67 L374.92 1071.33 L376.62 1068.99 L378.31 1066.62 L380.00 1064.25 L381.70 1061.86 L383.39 1059.46 L385.08 1057.05 L386.77 1054.62 L388.47 1052.18 L390.16 1049.73 L391.85 1047.27 L393.55 1044.79 L395.24 1042.30 L396.93 1039.80 L398.62 1037.28 L400.32 1034.75 L402.01 1032.21 L403.70 1029.66 L405.40 1027.09 L407.09 1024.51 L408.78 1021.92 L410.48 1019.32 L412.17 1016.70 L413.86 1014.07 L415.55 1011.43 L417.25 1008.78 L418.94 1006.11 L420.63 1003.43 L422.33 1000.74 L424.02 998.03 L425.71 995.32 L427.40 992.59 L429.10 989.85 L430.79 987.09 L432.48 984.33 L434.18 981.55 L435.87 978.76 L437.56 975.96 L439.25 973.14 L440.95 970.32 L442.64 967.48 L444.33 964.63 L446.03 961.76 L447.72 958.89 L449.41 956.00 L451.10 953.10 L452.80 950.19 L454.49 947.27 L456.18 944.34 L457.88 941.39 L459.57 938.44 L461.26 935.47 L462.95 932.49 L464.65 929.50 L466.34 926.50 L468.03 923.48 L469.73 920.46 L471.42 917.42 L473.11 914.37 L474.80 911.31 L476.50 908.24 L478.19 905.16 L479.88 902.07 L481.58 898.97 L483.27 895.86 L484.96 892.73 L486.65 889.60 L488.35 886.46 L490.04 883.30 L491.73 880.14 L493.43 876.96 L495.12 873.78 L496.81 870.58 L498.50 867.38 L500.20 864.16 L501.89 860.94 L503.58 857.71 L505.28 854.46 L506.97 851.21 L508.66 847.95 L510.35 844.68 L512.05 841.40 L513.74 838.11 L515.43 834.81 L517.13 831.51 L518.82 828.19 L520.51 824.87 L522.20 821.54 L523.90 818.20 L525.59 814.86 L527.28 811.50 L528.98 808.14 L530.67 804.77 L532.36 801.40 L534.05 798.02 L535.75 794.63 L537.44 791.23 L539.13 787.83 L540.83 784.42 L542.52 781.01 L544.21 777.59 L545.90 774.16 L547.60 770.73 L549.29 767.30 L550.98 763.86 L552.68 760.41 L554.37 756.96 L556.06 753.51 L557.76 750.05 L559.45 746.59 L561.14 743.13 L562.83 739.66 L564.53 736.19 L566.22 732.72 L567.91 729.25 L569.61 725.77 L571.30 722.29 L572.99 718.81 L574.68 715.33 L576.38 711.85 L578.07 708.37 L579.76 704.89 L581.46 701.41 L583.15 697.93 L584.84 694.45 L586.53 690.98 L588.23 687.50 L589.92 684.03 L591.61 680.56 L593.31 677.09 L595.00 673.63 L596.69 670.17 L598.38 666.72 L600.08 663.27 L601.77 659.83 L603.46 656.39 L605.16 652.96 L606.85 649.53 L608.54 646.12 L610.23 642.71 L611.93 639.31 L613.62 635.92 L615.31 632.54 L617.01 629.16 L618.70 625.80 L620.39 622.45 L622.08 619.12 L623.78 615.79 L625.47 612.48 L627.16 609.19 L628.86 605.90 L630.55 602.64 L632.24 599.39 L633.93 596.15 L635.63 592.93 L637.32 589.74 L639.01 586.56 L640.71 583.40 L642.40 580.26 L644.09 577.14 L645.78 574.04 L647.48 570.97 L649.17 567.92 L650.86 564.90 L652.56 561.90 L654.25 558.92 L655.94 555.98 L657.63 553.06 L659.33 550.18 L661.02 547.32 L662.71 544.49 L664.41 541.70 L666.10 538.94 L667.79 536.22 L669.48 533.53 L671.18 530.87 L672.87 528.21 L674.56 525.55 L676.26 522.90 L677.95 520.26 L679.64 517.63 L681.33 515.04 L683.03 512.47 L684.72 509.94 L686.41 507.46 L688.11 505.03 L689.80 502.65 L691.49 500.34 L693.19 498.10 L694.88 495.94 L696.57 493.87 L698.26 491.89 L699.96 490.02 L701.65 488.25 L703.34 486.60 L705.04 485.08 L706.73 483.70 L708.42 482.45 L710.11 481.36 L711.81 480.43 L713.50 479.67 L715.19 479.09 L716.89 479.10 L718.58 479.12 L720.27 479.15 L721.96 479.19 L723.66 479.25 L725.35 479.33 L727.04 479.41 L728.74 479.51 L730.43 479.62 L732.12 479.75 L733.81 479.88 L735.51 480.03 L737.20 480.20 L738.89 480.37 L740.59 480.56 L742.28 480.77 L743.97 480.98 L745.66 481.21 L747.36 481.46 L749.05 481.71 L750.74 481.98 L752.44 482.26 L754.13 482.56 L755.82 482.87 L757.51 483.19 L759.21 483.52 L760.90 483.87 L762.59 484.23 L764.29 484.60 L765.98 484.99 L767.67 485.39 L769.36 485.80 L771.06 486.23 L772.75 486.67 L774.44 487.12 L776.14 487.59 L777.83 488.06 L779.52 488.56 L781.21 489.06 L782.91 489.58 L784.60 490.11 L786.29 490.65 L787.99 491.21 L789.68 491.78 L791.37 492.36 L793.06 492.96 L794.76 493.57 L796.45 494.19 L798.14 494.83 L799.84 495.48 L801.53 496.14 L803.22 496.82 L804.91 497.50 L806.61 498.21 L808.30 498.92 L809.99 499.65 L811.69 500.39 L813.38 501.14 L815.07 501.91 L816.76 502.69 L818.46 503.48 L820.15 504.29 L821.84 505.11 L823.54 505.94 L825.23 506.79 L826.92 507.65 L828.62 508.52 L830.31 509.40 L832.00 510.30 L833.69 511.21 L835.39 512.14 L837.08 513.07 L838.77 514.02 L840.47 514.99 L842.16 515.96 L843.85 516.95 L845.54 517.96 L847.24 518.97 L848.93 520.00 L850.62 521.04 L852.32 522.10 L854.01 523.17 L855.70 524.25 L857.39 525.34 L859.09 526.45 L860.78 527.57 L862.47 528.71 L864.17 529.85 L865.86 531.02 L867.55 532.19 L869.24 533.38 L870.94 534.57 L872.63 535.79 L874.32 537.01 L876.02 538.25 L877.71 539.50 L879.40 540.77 L881.09 542.05 L882.79 543.34 L884.48 544.64 L886.17 545.96 L887.87 547.29 L889.56 548.64 L891.25 549.99 L892.94 551.36 L894.64 552.75 L896.33 554.14 L898.02 555.55 L899.72 556.97 L901.41 558.41 L903.10 559.86 L904.79 561.32 L906.49 562.80 L908.18 564.28 L909.87 565.78 L911.57 567.30 L913.26 568.83 L914.95 570.37 L916.64 571.92 L918.34 573.49 L920.03 575.07 L921.72 576.66 L923.42 578.27 L925.11 579.88 L926.80 581.52 L928.49 583.16 L930.19 584.82 L931.88 586.49 L933.57 588.18 L935.27 589.87 L936.96 591.58 L938.65 593.31 L940.34 595.05 L942.04 596.80 L943.73 598.56 L945.42 600.33 L947.12 602.12 L948.81 603.93 L950.50 605.74 L952.19 607.57 L953.89 609.41 L955.58 611.27 L957.27 613.13 L958.97 615.01 L960.66 616.91 L962.35 618.82 L964.05 620.74 L965.74 622.67 L967.43 624.61 L969.12 626.57 L970.82 628.55 L972.51 630.53 L974.20 632.53 L975.90 634.54 L977.59 636.57 L979.28 638.60 L980.97 640.65 L982.67 642.72 L984.36 644.79 L986.05 646.88 L987.75 648.99 L989.44 651.10 L991.13 653.23 L992.82 655.37 L994.52 657.53 L996.21 659.70 L997.90 661.88 L999.60 664.07 L1001.29 666.28 L1002.98 668.50 L1004.67 670.73 L1006.37 672.97 L1008.06 675.23 L1009.75 677.50 L1011.45 679.79 L1013.14 682.09 L1014.83 684.40 L1016.52 686.72 L1018.22 689.06 L1019.91 691.40 L1021.60 693.77 L1023.30 696.14 L1024.99 698.53 L1026.68 700.93 L1028.37 703.34 L1030.07 705.77 L1031.76 708.21 L1033.45 710.66 L1035.15 713.12 L1036.84 715.60 L1038.53 718.09 L1040.22 720.59 L1041.92 723.11 L1043.61 725.64 L1045.30 728.18 L1047.00 730.73 L1048.69 733.30 L1050.38 735.88 L1052.07 738.47 L1053.77 741.07 L1055.46 743.69 L1057.15 746.32 L1058.85 748.96 L1060.54 751.61 L1062.23 754.28 L1063.92 756.96 L1065.62 759.65 L1067.31 762.36 L1069.00 765.07 L1070.70 767.80 L1072.39 770.54 L1074.08 773.30 L1075.77 776.06 L1077.47 778.84 L1079.16 781.63 L1080.85 784.43 L1082.55 787.25 L1084.24 790.07 L1085.93 792.91 L1087.62 795.76 L1089.32 798.63 L1091.01 801.50 L1092.70 804.39 L1094.40 807.28 L1096.09 810.19 L1097.78 813.12 L1099.48 816.05 L1101.17 819.00 L1102.86 821.95 L1104.55 824.92 L1106.25 827.90 L1107.94 830.89 L1109.63 833.89 L1111.33 836.91 L1113.02 839.93 L1114.71 842.97 L1116.40 846.02 L1118.10 849.08 L1119.79 852.15 L1121.48 855.23 L1123.18 858.32 L1124.87 861.42 L1126.56 864.53 L1128.25 867.65 L1129.95 870.79 L1131.64 873.93 L1133.33 877.09 L1135.03 880.25 L1136.72 883.43 L1138.41 886.61 L1140.10 889.81 L1141.80 893.01 L1143.49 896.23 L1145.18 899.45 L1146.88 902.68 L1148.57 905.93 L1150.26 909.18 L1151.95 912.44 L1153.65 915.71 L1155.34 918.99 L1157.03 922.28 L1158.73 925.58 L1160.42 928.88 L1162.11 932.20 L1163.80 935.52 L1165.50 938.85 L1167.19 942.19 L1168.88 945.53 L1170.58 948.89 L1172.27 952.25 L1173.96 955.62 L1175.65 958.99 L1177.35 962.37 L1179.04 965.76 L1180.73 969.16 L1182.43 972.56 L1184.12 975.97 L1185.81 979.38 L1187.50 982.80 L1189.20 986.23 L1190.89 989.66 L1192.58 993.09 L1194.28 996.53 L1195.97 999.98 L1197.66 1003.43 L1199.35 1006.88 L1201.05 1010.34 L1202.74 1013.80 L1204.43 1017.26 L1206.13 1020.73 L1207.82 1024.20 L1209.51 1027.67 L1211.20 1031.14 L1212.90 1034.62 L1214.59 1038.10 L1216.28 1041.58 L1217.98 1045.06 L1219.67 1048.54 L1221.36 1052.02 L1223.06 1055.50 L1224.75 1058.98 L1226.44 1062.46 L1228.13 1065.94 L1229.83 1069.41 L1231.52 1072.89 L1233.21 1076.36 L1234.91 1079.83 L1236.60 1083.30 L1238.29 1086.76 L1239.98 1090.22 L1241.68 1093.67 L1243.37 1097.12 L1245.06 1100.56 L1246.76 1104.00 L1248.45 1107.43 L1250.14 1110.86 L1251.83 1114.27 L1253.53 1117.68 L1255.22 1121.08 L1256.91 1124.47 L1258.61 1127.85 L1260.30 1131.23 L1261.99 1134.59 L1263.68 1137.93 L1265.38 1141.27 L1267.07 1144.60 L1268.76 1147.91 L1270.46 1151.20 L1272.15 1154.49 L1273.84 1157.75 L1275.53 1161.00 L1277.23 1164.24 L1278.92 1167.46 L1280.61 1170.65 L1282.31 1173.83 L1284.00 1176.99 L1285.69 1180.13 L1287.38 1183.25 L1289.08 1186.35 L1290.77 1189.42 L1292.46 1192.47 L1294.16 1195.49 L1295.85 1198.49 L1297.54 1201.46 L1299.23 1204.41 L1300.93 1207.33 L1302.62 1210.21 L1304.31 1213.07 L1306.01 1215.89 L1307.70 1218.69 L1309.39 1221.45 L1311.08 1224.17 L1312.78 1226.86 L1314.47 1229.52 L1316.16 1232.18 L1317.86 1234.84 L1319.55 1237.49 L1321.24 1240.13 L1322.93 1242.76 L1324.63 1245.35 L1326.32 1247.92 L1328.01 1250.45 L1329.71 1252.93 L1331.40 1255.36 L1333.09 1257.74 L1334.78 1260.05 L1336.48 1262.29 L1338.17 1264.45 L1339.86 1266.52 L1341.56 1268.50 L1343.25 1270.37 L1344.94 1272.14 L1346.63 1273.79 L1348.33 1275.31 L1350.02 1276.69 L1351.71 1277.94 L1353.41 1279.03 L1355.10 1279.96 L1356.79 1280.72 L1358.48 1281.30 L1360.18 1281.30 L1361.87 1281.30 L1363.56 1281.30 L1365.26 1281.30 L1366.95 1281.30 L1368.64 1281.30 L1370.34 1281.30 L1372.03 1281.30 L1373.72 1281.30 L1375.41 1281.30 L1377.11 1281.30 L1378.80 1281.30 L1380.49 1281.30 L1382.19 1281.30 L1383.88 1281.30 L1385.57 1281.30 L1387.26 1281.30 L1388.96 1281.30 L1390.65 1281.30 L1392.34 1281.30 L1394.04 1281.30 L1395.73 1281.30 L1397.42 1281.30 L1399.11 1281.30 L1400.81 1281.30 L1402.50 1281.30 L1404.19 1281.30 L1405.89 1281.30 L1407.58 1281.30 L1409.27 1281.30 L1410.96 1281.30 L1412.66 1281.30 L1414.35 1281.30 L1416.04 1281.30 L1417.74 1281.30 L1419.43 1281.30 L1421.12 1281.30 L1422.81 1281.30 L1424.51 1281.30 L1426.20 1281.30 L1427.89 1281.30 L1429.59 1281.30 L1431.28 1281.30 L1432.97 1281.30 L1434.66 1281.30 L1436.36 1281.30 L1438.05 1281.30 L1439.74 1281.30 L1441.44 1281.30 L1443.13 1281.30 L1444.82 1281.30 L1446.51 1281.30 L1448.21 1281.30 L1449.90 1281.30 L1451.59 1281.30 L1453.29 1281.30 L1454.98 1281.30 L1456.67 1281.30 L1458.36 1281.30 L1460.06 1281.30 L1461.75 1281.30 L1463.44 1281.30 L1465.14 1281.30 L1466.83 1281.30 L1468.52 1281.30 L1470.21 1281.30 L1471.91 1281.30 L1473.60 1281.30 L1475.29 1281.30 L1476.99 1281.30 L1478.68 1281.30 L1480.37 1281.30 L1482.06 1281.30 L1483.76 1281.30 L1485.45 1281.30 L1487.14 1281.30 L1488.84 1281.30 L1490.53 1281.30 L1492.22 1281.30 L1493.92 1281.30 L1495.61 1281.30 L1497.30 1281.30 L1498.99 1281.30 L1500.69 1281.30 L1502.38 1281.30 L1504.07 1281.30 L1505.77 1281.30 L1507.46 1281.30 L1509.15 1281.30 L1510.84 1281.30 L1512.54 1281.30 L1514.23 1281.30 L1515.92 1281.30 L1517.62 1281.30 L1519.31 1281.30 L1521.00 1281.30 L1522.69 1281.30 L1524.39 1281.30 L1526.08 1281.30 L1527.77 1281.30 L1529.47 1281.30 L1531.16 1281.30 L1532.85 1281.30 L1534.54 1281.30 L1536.24 1281.30 L1537.93 1281.30 L1539.62 1281.30 L1541.32 1281.30 L1543.01 1281.30 L1544.70 1281.30 L1546.39 1281.30 L1548.09 1281.30 L1549.78 1281.30 L1551.47 1281.30 L1553.17 1281.30 L1554.86 1281.30 L1556.55 1281.30 L1558.24 1281.30 L1559.94 1281.30 L1561.63 1281.30 L1563.32 1281.30 L1565.02 1281.30 L1566.71 1281.30 L1568.40 1281.30 L1570.09 1281.30 L1571.79 1281.30 L1573.48 1281.30 L1575.17 1281.30 L1576.87 1281.30 L1578.56 1281.30 L1580.25 1281.30 L1581.94 1281.30 L1583.64 1281.30 L1585.33 1281.30 L1587.02 1281.30 L1588.72 1281.30 L1590.41 1281.30 L1592.10 1281.30 L1593.79 1281.30 L1595.49 1281.30" fill="none" stroke="#0000ff" stroke-width="6.7" stroke-linejoin="round" stroke-linecap="square"/>
<path d="M71.90 1281.30 L73.59 1281.29 L75.29 1281.28 L76.98 1281.25 L78.67 1281.21 L80.36 1281.16 L82.06 1281.10 L83.75 1281.02 L85.44 1280.94 L87.14 1280.84 L88.83 1280.74 L90.52 1280.62 L92.21 1280.49 L93.91 1280.35 L95.60 1280.20 L97.29 1280.04 L98.99 1279.86 L100.68 1279.68 L102.37 1279.48 L104.06 1279.27 L105.76 1279.05 L107.45 1278.82 L109.14 1278.58 L110.84 1278.33 L112.53 1278.06 L114.22 1277.79 L115.91 1277.50 L117.61 1277.20 L119.30 1276.89 L120.99 1276.57 L122.69 1276.24 L124.38 1275.90 L126.07 1275.54 L127.76 1275.18 L129.46 1274.80 L131.15 1274.41 L132.84 1274.02 L134.54 1273.61 L136.23 1273.18 L137.92 1272.75 L139.62 1272.31 L141.31 1271.85 L143.00 1271.39 L144.69 1270.91 L146.39 1270.42 L148.08 1269.92 L149.77 1269.41 L151.47 1268.88 L153.16 1268.35 L154.85 1267.81 L156.54 1267.25 L158.24 1266.68 L159.93 1266.10 L161.62 1265.51 L163.32 1264.91 L165.01 1264.30 L166.70 1263.67 L168.39 1263.04 L170.09 1262.39 L171.78 1261.74 L173.47 1261.07 L175.17 1260.39 L176.86 1259.69 L178.55 1258.99 L180.24 1258.28 L181.94 1257.55 L183.63 1256.82 L185.32 1256.07 L187.02 1255.31 L188.71 1254.54 L190.40 1253.76 L192.09 1252.97 L193.79 1252.16 L195.48 1251.35 L197.17 1250.52 L198.87 1249.68 L200.56 1248.84 L202.25 1247.98 L203.94 1247.10 L205.64 1246.22 L207.33 1245.33 L209.02 1244.42 L210.72 1243.51 L212.41 1242.58 L214.10 1241.64 L215.79 1240.69 L217.49 1239.73 L219.18 1238.76 L220.87 1237.77 L222.57 1236.78 L224.26 1235.77 L225.95 1234.76 L227.64 1233.73 L229.34 1232.69 L231.03 1231.64 L232.72 1230.58 L234.42 1229.50 L236.11 1228.42 L237.80 1227.32 L239.49 1226.21 L241.19 1225.10 L242.88 1223.97 L244.57 1222.82 L246.27 1221.67 L247.96 1220.51 L249.65 1219.33 L251.34 1218.15 L253.04 1216.95 L254.73 1215.74 L256.42 1214.52 L258.12 1213.29 L259.81 1212.05 L261.50 1210.80 L263.19 1209.53 L264.89 1208.26 L266.58 1206.97 L268.27 1205.67 L269.97 1204.36 L271.66 1203.04 L273.35 1201.71 L275.04 1200.37 L276.74 1199.01 L278.43 1197.65 L280.12 1196.27 L281.82 1194.88 L283.51 1193.48 L285.20 1192.07 L286.90 1190.65 L288.59 1189.22 L290.28 1187.77 L291.97 1186.32 L293.67 1184.85 L295.36 1183.37 L297.05 1181.88 L298.75 1180.38 L300.44 1178.87 L302.13 1177.35 L303.82 1175.81 L305.52 1174.27 L307.21 1172.71 L308.90 1171.14 L310.60 1169.56 L312.29 1167.97 L313.98 1166.37 L315.67 1164.76 L317.37 1163.13 L319.06 1161.50 L320.75 1159.85 L322.45 1158.20 L324.14 1156.53 L325.83 1154.85 L327.52 1153.16 L329.22 1151.45 L330.91 1149.74 L332.60 1148.01 L334.30 1146.28 L335.99 1144.53 L337.68 1142.77 L339.37 1141.00 L341.07 1139.22 L342.76 1137.43 L344.45 1135.63 L346.15 1133.81 L347.84 1131.99 L349.53 1130.15 L351.22 1128.30 L352.92 1126.44 L354.61 1124.57 L356.30 1122.69 L358.00 1120.80 L359.69 1118.89 L361.38 1116.98 L363.07 1115.05 L364.77 1113.12 L366.46 1111.17 L368.15 1109.21 L369.85 1107.24 L371.54 1105.26 L373.23 1103.26 L374.92 1101.26 L376.62 1099.24 L378.31 1097.22 L380.00 1095.18 L381.70 1093.13 L383.39 1091.07 L385.08 1089.00 L386.77 1086.92 L388.47 1084.83 L390.16 1082.72 L391.85 1080.61 L393.55 1078.48 L395.24 1076.34 L396.93 1074.20 L398.62 1072.04 L400.32 1069.87 L402.01 1067.68 L403.70 1065.49 L405.40 1063.29 L407.09 1061.08 L408.78 1058.85 L410.48 1056.61 L412.17 1054.37 L413.86 1052.11 L415.55 1049.84 L417.25 1047.56 L418.94 1045.27 L420.63 1042.97 L422.33 1040.66 L424.02 1038.33 L425.71 1036.00 L427.40 1033.65 L429.10 1031.30 L430.79 1028.93 L432.48 1026.56 L434.18 1024.17 L435.87 1021.77 L437.56 1019.36 L439.25 1016.94 L440.95 1014.51 L442.64 1012.07 L444.33 1009.62 L446.03 1007.15 L447.72 1004.68 L449.41 1002.20 L451.10 999.70 L452.80 997.20 L454.49 994.68 L456.18 992.16 L457.88 989.62 L459.57 987.07 L461.26 984.52 L462.95 981.95 L464.65 979.37 L466.34 976.79 L468.03 974.19 L469.73 971.58 L471.42 968.96 L473.11 966.33 L474.80 963.70 L476.50 961.05 L478.19 958.39 L479.88 955.72 L481.58 953.04 L483.27 950.36 L484.96 947.66 L486.65 944.95 L488.35 942.23 L490.04 939.51 L491.73 936.77 L493.43 934.02 L495.12 931.27 L496.81 928.50 L498.50 925.73 L500.20 922.94 L501.89 920.15 L503.58 917.35 L505.28 914.54 L506.97 911.72 L508.66 908.89 L510.35 906.05 L512.05 903.20 L513.74 900.35 L515.43 897.48 L517.13 894.61 L518.82 891.73 L520.51 888.84 L522.20 885.94 L523.90 883.03 L525.59 880.11 L527.28 877.19 L528.98 874.26 L530.67 871.32 L532.36 868.37 L534.05 865.42 L535.75 862.46 L537.44 859.49 L539.13 856.51 L540.83 853.52 L542.52 850.53 L544.21 847.53 L545.90 844.53 L547.60 841.52 L549.29 838.50 L550.98 835.47 L552.68 832.44 L554.37 829.40 L556.06 826.36 L557.76 823.31 L559.45 820.25 L561.14 817.19 L562.83 814.12 L564.53 811.05 L566.22 807.97 L567.91 804.89 L569.61 801.80 L571.30 798.71 L572.99 795.61 L574.68 792.51 L576.38 789.40 L578.07 786.29 L579.76 783.18 L581.46 780.06 L583.15 776.94 L584.84 773.82 L586.53 770.70 L588.23 767.57 L589.92 764.44 L591.61 761.30 L593.31 758.17 L595.00 755.03 L596.69 751.89 L598.38 748.75 L600.08 745.61 L601.77 742.47 L603.46 739.33 L605.16 736.19 L606.85 733.05 L608.54 729.91 L610.23 726.77 L611.93 723.63 L613.62 720.49 L615.31 717.36 L617.01 714.22 L618.70 711.09 L620.39 707.96 L622.08 704.84 L623.78 701.71 L625.47 698.59 L627.16 695.48 L628.86 692.37 L630.55 689.27 L632.24 686.17 L633.93 683.07 L635.63 679.98 L637.32 676.90 L639.01 673.83 L640.71 670.76 L642.40 667.70 L644.09 664.65 L645.78 661.61 L647.48 658.58 L649.17 655.56 L650.86 652.54 L652.56 649.54 L654.25 646.55 L655.94 643.57 L657.63 640.61 L659.33 637.65 L661.02 634.71 L662.71 631.79 L664.41 628.88 L666.10 625.98 L667.79 623.10 L669.48 620.24 L671.18 617.39 L672.87 614.57 L674.56 611.76 L676.26 608.97 L677.95 606.20 L679.64 603.44 L681.33 600.72 L683.03 598.01 L684.72 595.32 L686.41 592.66 L688.11 590.03 L689.80 587.42 L691.49 584.83 L693.19 582.27 L694.88 579.74 L696.57 577.24 L698.26 574.76 L699.96 572.32 L701.65 569.91 L703.34 567.51 L705.04 565.10 L706.73 562.71 L708.42 560.31 L710.11 557.93 L711.81 555.57 L713.50 553.23 L715.19 550.91 L716.89 548.63 L718.58 546.39 L720.27 544.18 L721.96 542.03 L723.66 539.93 L725.35 537.89 L727.04 535.92 L728.74 534.02 L730.43 532.20 L732.12 530.46 L733.81 528.81 L735.51 527.26 L737.20 525.82 L738.89 524.48 L740.59 523.27 L742.28 522.18 L743.97 521.22 L745.66 520.39 L747.36 519.72 L749.05 519.20 L750.74 519.21 L752.44 519.22 L754.13 519.25 L755.82 519.29 L757.51 519.34 L759.21 519.40 L760.90 519.48 L762.59 519.56 L764.29 519.66 L765.98 519.76 L767.67 519.88 L769.36 520.01 L771.06 520.15 L772.75 520.30 L774.44 520.46 L776.14 520.64 L777.83 520.82 L779.52 521.02 L781.21 521.23 L782.91 521.45 L784.60 521.68 L786.29 521.92 L787.99 522.17 L789.68 522.44 L791.37 522.71 L793.06 523.00 L794.76 523.30 L796.45 523.61 L798.14 523.93 L799.84 524.26 L801.53 524.60 L803.22 524.96 L804.91 525.32 L806.61 525.70 L808.30 526.09 L809.99 526.48 L811.69 526.89 L813.38 527.32 L815.07 527.75 L816.76 528.19 L818.46 528.65 L820.15 529.11 L821.84 529.59 L823.54 530.08 L825.23 530.58 L826.92 531.09 L828.62 531.62 L830.31 532.15 L832.00 532.69 L833.69 533.25 L835.39 533.82 L837.08 534.40 L838.77 534.99 L840.47 535.59 L842.16 536.20 L843.85 536.83 L845.54 537.46 L847.24 538.11 L848.93 538.76 L850.62 539.43 L852.32 540.11 L854.01 540.81 L855.70 541.51 L857.39 542.22 L859.09 542.95 L860.78 543.68 L862.47 544.43 L864.17 545.19 L865.86 545.96 L867.55 546.74 L869.24 547.53 L870.94 548.34 L872.63 549.15 L874.32 549.98 L876.02 550.82 L877.71 551.66 L879.40 552.52 L881.09 553.40 L882.79 554.28 L884.48 555.17 L886.17 556.08 L887.87 556.99 L889.56 557.92 L891.25 558.86 L892.94 559.81 L894.64 560.77 L896.33 561.74 L898.02 562.73 L899.72 563.72 L901.41 564.73 L903.10 565.74 L904.79 566.77 L906.49 567.81 L908.18 568.86 L909.87 569.92 L911.57 571.00 L913.26 572.08 L914.95 573.18 L916.64 574.29 L918.34 575.40 L920.03 576.53 L921.72 577.68 L923.42 578.83 L925.11 579.99 L926.80 581.17 L928.49 582.35 L930.19 583.55 L931.88 584.76 L933.57 585.98 L935.27 587.21 L936.96 588.45 L938.65 589.70 L940.34 590.97 L942.04 592.24 L943.73 593.53 L945.42 594.83 L947.12 596.14 L948.81 597.46 L950.50 598.79 L952.19 600.13 L953.89 601.49 L955.58 602.85 L957.27 604.23 L958.97 605.62 L960.66 607.02 L962.35 608.43 L964.05 609.85 L965.74 611.28 L967.43 612.73 L969.12 614.18 L970.82 615.65 L972.51 617.13 L974.20 618.62 L975.90 620.12 L977.59 621.63 L979.28 623.15 L980.97 624.69 L982.67 626.23 L984.36 627.79 L986.05 629.36 L987.75 630.94 L989.44 632.53 L991.13 634.13 L992.82 635.74 L994.52 637.37 L996.21 639.00 L997.90 640.65 L999.60 642.30 L1001.29 643.97 L1002.98 645.65 L1004.67 647.34 L1006.37 649.05 L1008.06 650.76 L1009.75 652.49 L1011.45 654.22 L1013.14 655.97 L1014.83 657.73 L1016.52 659.50 L1018.22 661.28 L1019.91 663.07 L1021.60 664.87 L1023.30 666.69 L1024.99 668.51 L1026.68 670.35 L1028.37 672.20 L1030.07 674.06 L1031.76 675.93 L1033.45 677.81 L1035.15 679.70 L1036.84 681.61 L1038.53 683.52 L1040.22 685.45 L1041.92 687.38 L1043.61 689.33 L1045.30 691.29 L1047.00 693.26 L1048.69 695.24 L1050.38 697.24 L1052.07 699.24 L1053.77 701.26 L1055.46 703.28 L1057.15 705.32 L1058.85 707.37 L1060.54 709.43 L1062.23 711.50 L1063.92 713.58 L1065.62 715.67 L1067.31 717.78 L1069.00 719.89 L1070.70 722.02 L1072.39 724.16 L1074.08 726.30 L1075.77 728.46 L1077.47 730.63 L1079.16 732.82 L1080.85 735.01 L1082.55 737.21 L1084.24 739.42 L1085.93 741.65 L1087.62 743.89 L1089.32 746.13 L1091.01 748.39 L1092.70 750.66 L1094.40 752.94 L1096.09 755.23 L1097.78 757.53 L1099.48 759.84 L1101.17 762.17 L1102.86 764.50 L1104.55 766.85 L1106.25 769.20 L1107.94 771.57 L1109.63 773.94 L1111.33 776.33 L1113.02 778.73 L1114.71 781.14 L1116.40 783.56 L1118.10 785.99 L1119.79 788.43 L1121.48 790.88 L1123.18 793.35 L1124.87 795.82 L1126.56 798.30 L1128.25 800.80 L1129.95 803.30 L1131.64 805.82 L1133.33 808.34 L1135.03 810.88 L1136.72 813.43 L1138.41 815.98 L1140.10 818.55 L1141.80 821.13 L1143.49 823.71 L1145.18 826.31 L1146.88 828.92 L1148.57 831.54 L1150.26 834.17 L1151.95 836.80 L1153.65 839.45 L1155.34 842.11 L1157.03 844.78 L1158.73 847.46 L1160.42 850.14 L1162.11 852.84 L1163.80 855.55 L1165.50 858.27 L1167.19 860.99 L1168.88 863.73 L1170.58 866.48 L1172.27 869.23 L1173.96 872.00 L1175.65 874.77 L1177.35 877.56 L1179.04 880.35 L1180.73 883.15 L1182.43 885.96 L1184.12 888.78 L1185.81 891.61 L1187.50 894.45 L1189.20 897.30 L1190.89 900.15 L1192.58 903.02 L1194.28 905.89 L1195.97 908.77 L1197.66 911.66 L1199.35 914.56 L1201.05 917.47 L1202.74 920.39 L1204.43 923.31 L1206.13 926.24 L1207.82 929.18 L1209.51 932.13 L1211.20 935.08 L1212.90 938.04 L1214.59 941.01 L1216.28 943.99 L1217.98 946.98 L1219.67 949.97 L1221.36 952.97 L1223.06 955.97 L1224.75 958.98 L1226.44 962.00 L1228.13 965.03 L1229.83 968.06 L1231.52 971.10 L1233.21 974.14 L1234.91 977.19 L1236.60 980.25 L1238.29 983.31 L1239.98 986.38 L1241.68 989.45 L1243.37 992.53 L1245.06 995.61 L1246.76 998.70 L1248.45 1001.79 L1250.14 1004.89 L1251.83 1007.99 L1253.53 1011.10 L1255.22 1014.21 L1256.91 1017.32 L1258.61 1020.44 L1260.30 1023.56 L1261.99 1026.68 L1263.68 1029.80 L1265.38 1032.93 L1267.07 1036.06 L1268.76 1039.20 L1270.46 1042.33 L1272.15 1045.47 L1273.84 1048.61 L1275.53 1051.75 L1277.23 1054.89 L1278.92 1058.03 L1280.61 1061.17 L1282.31 1064.31 L1284.00 1067.45 L1285.69 1070.59 L1287.38 1073.73 L1289.08 1076.87 L1290.77 1080.01 L1292.46 1083.14 L1294.16 1086.28 L1295.85 1089.41 L1297.54 1092.54 L1299.23 1095.66 L1300.93 1098.79 L1302.62 1101.91 L1304.31 1105.02 L1306.01 1108.13 L1307.70 1111.23 L1309.39 1114.33 L1311.08 1117.43 L1312.78 1120.52 L1314.47 1123.60 L1316.16 1126.67 L1317.86 1129.74 L1319.55 1132.80 L1321.24 1135.85 L1322.93 1138.89 L1324.63 1141.92 L1326.32 1144.94 L1328.01 1147.96 L1329.71 1150.96 L1331.40 1153.95 L1333.09 1156.93 L1334.78 1159.89 L1336.48 1162.85 L1338.17 1165.79 L1339.86 1168.71 L1341.56 1171.62 L1343.25 1174.52 L1344.94 1177.40 L1346.63 1180.26 L1348.33 1183.11 L1350.02 1185.93 L1351.71 1188.74 L1353.41 1191.53 L1355.10 1194.30 L1356.79 1197.06 L1358.48 1199.78 L1360.18 1202.49 L1361.87 1205.18 L1363.56 1207.84 L1365.26 1210.47 L1366.95 1213.08 L1368.64 1215.67 L1370.34 1218.23 L1372.03 1220.76 L1373.72 1223.26 L1375.41 1225.74 L1377.11 1228.18 L1378.80 1230.59 L1380.49 1232.99 L1382.19 1235.40 L1383.88 1237.79 L1385.57 1240.19 L1387.26 1242.57 L1388.96 1244.93 L1390.65 1247.27 L1392.34 1249.59 L1394.04 1251.87 L1395.73 1254.11 L1397.42 1256.32 L1399.11 1258.47 L1400.81 1260.57 L1402.50 1262.61 L1404.19 1264.58 L1405.89 1266.48 L1407.58 1268.30 L1409.27 1270.04 L1410.96 1271.69 L1412.66 1273.24 L1414.35 1274.68 L1416.04 1276.02 L1417.74 1277.23 L1419.43 1278.32 L1421.12 1279.28 L1422.81 1280.11 L1424.51 1280.78 L1426.20 1281.30 L1427.89 1281.30 L1429.59 1281.30 L1431.28 1281.30 L1432.97 1281.30 L1434.66 1281.30 L1436.36 1281.30 L1438.05 1281.30 L1439.74 1281.30 L1441.44 1281.30 L1443.13 1281.30 L1444.82 1281.30 L1446.51 1281.30 L1448.21 1281.30 L1449.90 1281.30 L1451.59 1281.30 L1453.29 1281.30 L1454.98 1281.30 L1456.67 1281.30 L1458.36 1281.30 L1460.06 1281.30 L1461.75 1281.30 L1463.44 1281.30 L1465.14 1281.30 L1466.83 1281.30 L1468.52 1281.30 L1470.21 1281.30 L1471.91 1281.30 L1473.60 1281.30 L1475.29 1281.30 L1476.99 1281.30 L1478.68 1281.30 L1480.37 1281.30 L1482.06 1281.30 L1483.76 1281.30 L1485.45 1281.30 L1487.14 1281.30 L1488.84 1281.30 L1490.53 1281.30 L1492.22 1281.30 L1493.92 1281.30 L1495.61 1281.30 L1497.30 1281.30 L1498.99 1281.30 L1500.69 1281.30 L1502.38 1281.30 L1504.07 1281.30 L1505.77 1281.30 L1507.46 1281.30 L1509.15 1281.30 L1510.84 1281.30 L1512.54 1281.30 L1514.23 1281.30 L1515.92 1281.30 L1517.62 1281.30 L1519.31 1281.30 L1521.00 1281.30 L1522.69 1281.30 L1524.39 1281.30 L1526.08 1281.30 L1527.77 1281.30 L1529.47 1281.30 L1531.16 1281.30 L1532.85 1281.30 L1534.54 1281.30 L1536.24 1281.30 L1537.93 1281.30 L1539.62 1281.30 L1541.32 1281.30 L1543.01 1281.30 L1544.70 1281.30 L1546.39 1281.30 L1548.09 1281.30 L1549.78 1281.30 L1551.47 1281.30 L1553.17 1281.30 L1554.86 1281.30 L1556.55 1281.30 L1558.24 1281.30 L1559.94 1281.30 L1561.63 1281.30 L1563.32 1281.30 L1565.02 1281.30 L1566.71 1281.30 L1568.40 1281.30 L1570.09 1281.30 L1571.79 1281.30 L1573.48 1281.30 L1575.17 1281.30 L1576.87 1281.30 L1578.56 1281.30 L1580.25 1281.30 L1581.94 1281.30 L1583.64 1281.30 L1585.33 1281.30 L1587.02 1281.30 L1588.72 1281.30 L1590.41 1281.30 L1592.10 1281.30 L1593.79 1281.30 L1595.49 1281.30" fill="none" stroke="#000" stroke-width="6.7" stroke-linejoin="round" stroke-linecap="square" stroke-dasharray="16 16"/>
<g stroke="#000" stroke-width="2.1" fill="none">
<line x1="40" y1="1281.25" x2="1629" y2="1281.25"/>
<line x1="71.90" y1="275.3" x2="71.90" y2="1334.3"/>
<line x1="139.62" y1="1281.30" x2="139.62" y2="1271.80"/>
<line x1="207.33" y1="1281.30" x2="207.33" y2="1271.80"/>
<line x1="275.04" y1="1281.30" x2="275.04" y2="1271.80"/>
<line x1="342.76" y1="1281.30" x2="342.76" y2="1271.80"/>
<line x1="410.48" y1="1281.30" x2="410.48" y2="1265.30"/>
<line x1="478.19" y1="1281.30" x2="478.19" y2="1271.80"/>
<line x1="545.90" y1="1281.30" x2="545.90" y2="1271.80"/>
<line x1="613.62" y1="1281.30" x2="613.62" y2="1271.80"/>
<line x1="681.33" y1="1281.30" x2="681.33" y2="1271.80"/>
<line x1="749.05" y1="1281.30" x2="749.05" y2="1265.30"/>
<line x1="816.76" y1="1281.30" x2="816.76" y2="1271.80"/>
<line x1="884.48" y1="1281.30" x2="884.48" y2="1271.80"/>
<line x1="952.19" y1="1281.30" x2="952.19" y2="1271.80"/>
<line x1="1019.91" y1="1281.30" x2="1019.91" y2="1271.80"/>
<line x1="1087.62" y1="1281.30" x2="1087.62" y2="1265.30"/>
<line x1="1155.34" y1="1281.30" x2="1155.34" y2="1271.80"/>
<line x1="1223.06" y1="1281.30" x2="1223.06" y2="1271.80"/>
<line x1="1290.77" y1="1281.30" x2="1290.77" y2="1271.80"/>
<line x1="1358.48" y1="1281.30" x2="1358.48" y2="1271.80"/>
<line x1="1426.20" y1="1281.30" x2="1426.20" y2="1265.30"/>
<line x1="1493.92" y1="1281.30" x2="1493.92" y2="1271.80"/>
<line x1="1561.63" y1="1281.30" x2="1561.63" y2="1271.80"/>
<line x1="1629.35" y1="1281.30" x2="1629.35" y2="1271.80"/>
<line x1="71.90" y1="1311.78" x2="81.90" y2="1311.78"/>
<line x1="71.90" y1="1250.82" x2="81.90" y2="1250.82"/>
<line x1="71.90" y1="1220.33" x2="81.90" y2="1220.33"/>
<line x1="71.90" y1="1189.85" x2="81.90" y2="1189.85"/>
<line x1="71.90" y1="1159.36" x2="81.90" y2="1159.36"/>
<line x1="71.90" y1="1128.88" x2="87.90" y2="1128.88"/>
<line x1="71.90" y1="1098.40" x2="81.90" y2="1098.40"/>
<line x1="71.90" y1="1067.91" x2="81.90" y2="1067.91"/>
<line x1="71.90" y1="1037.43" x2="81.90" y2="1037.43"/>
<line x1="71.90" y1="1006.94" x2="81.90" y2="1006.94"/>
<line x1="71.90" y1="976.46" x2="87.90" y2="976.46"/>
<line x1="71.90" y1="945.98" x2="81.90" y2="945.98"/>
<line x1="71.90" y1="915.49" x2="81.90" y2="915.49"/>
<line x1="71.90" y1="885.01" x2="81.90" y2="885.01"/>
<line x1="71.90" y1="854.52" x2="81.90" y2="854.52"/>
<line x1="71.90" y1="824.04" x2="87.90" y2="824.04"/>
<line x1="71.90" y1="793.56" x2="81.90" y2="793.56"/>
<line x1="71.90" y1="763.07" x2="81.90" y2="763.07"/>
<line x1="71.90" y1="732.59" x2="81.90" y2="732.59"/>
<line x1="71.90" y1="702.10" x2="81.90" y2="702.10"/>
<line x1="71.90" y1="671.62" x2="87.90" y2="671.62"/>
<line x1="71.90" y1="641.14" x2="81.90" y2="641.14"/>
<line x1="71.90" y1="610.65" x2="81.90" y2="610.65"/>
<line x1="71.90" y1="580.17" x2="81.90" y2="580.17"/>
<line x1="71.90" y1="549.68" x2="81.90" y2="549.68"/>
<line x1="71.90" y1="519.20" x2="87.90" y2="519.20"/>
<line x1="71.90" y1="488.72" x2="81.90" y2="488.72"/>
<line x1="71.90" y1="458.23" x2="81.90" y2="458.23"/>
<line x1="71.90" y1="427.75" x2="81.90" y2="427.75"/>
<line x1="71.90" y1="397.26" x2="81.90" y2="397.26"/>
<line x1="71.90" y1="366.78" x2="87.90" y2="366.78"/>
<line x1="71.90" y1="336.30" x2="81.90" y2="336.30"/>
<line x1="71.90" y1="305.81" x2="81.90" y2="305.81"/>
<line x1="71.90" y1="275.33" x2="81.90" y2="275.33"/>
</g>
<text class="tk" x="0.4" y="1150.8" textLength="59.3" lengthAdjust="spacingAndGlyphs">0.1</text>
<text class="tk" x="0.4" y="998.4" textLength="59.3" lengthAdjust="spacingAndGlyphs">0.2</text>
<text class="tk" x="0.4" y="845.9" textLength="59.3" lengthAdjust="spacingAndGlyphs">0.3</text>
<text class="tk" x="0.4" y="693.5" textLength="59.3" lengthAdjust="spacingAndGlyphs">0.4</text>
<text class="tk" x="0.4" y="541.1" textLength="59.3" lengthAdjust="spacingAndGlyphs">0.5</text>
<text class="tk" x="0.4" y="388.7" textLength="59.3" lengthAdjust="spacingAndGlyphs">0.6</text>
<text class="tk" x="380.7" y="1348.8" textLength="58.1" lengthAdjust="spacingAndGlyphs">0.5</text>
<text class="tk" x="719.2" y="1348.8" textLength="60.0" lengthAdjust="spacingAndGlyphs">1.0</text>
<text class="tk" x="1058.2" y="1348.8" textLength="58.1" lengthAdjust="spacingAndGlyphs">1.5</text>
<text class="tk" x="1396.4" y="1348.8" textLength="60.0" lengthAdjust="spacingAndGlyphs">2.0</text>
<text x="30.5" y="242.3" style="font-family:'DejaVu Math TeX Gyre','DejaVu Sans',sans-serif;font-size:44.5px;stroke:#000;stroke-width:0.8px;">ℛ</text>
<text y="242" style="font-family:'Liberation Serif',serif;font-size:49px;"><tspan x="65.9" y="239.6" style="font-size:44px">(</tspan><tspan x="81.6" y="242">t</tspan><tspan x="94.7" y="239.6" style="font-size:44px">)</tspan></text>
<text x="1674.9" y="1270.9" style="font-family:'Liberation Serif',serif;font-size:32.5px;font-style:italic;">t</text>
<line x1="1666.3" y1="1276.5" x2="1698.4" y2="1276.5" stroke="#000" stroke-width="2.8"/>
<text x="1665.9" y="1315.7" style="font-family:'Liberation Serif',serif;font-size:32.5px;font-style:italic;">z</text>
<text x="1678.6" y="1318.3" style="font-family:'DejaVu Sans',sans-serif;font-size:15.7px;">∗</text>
</svg>
</body></html>
